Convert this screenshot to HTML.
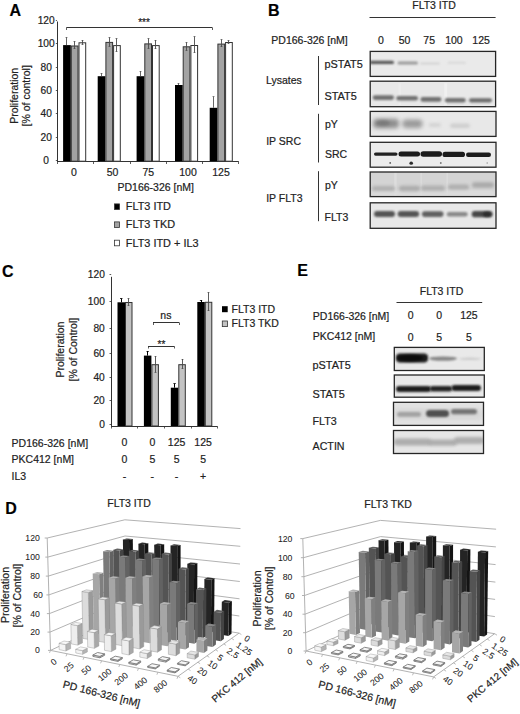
<!DOCTYPE html>
<html><head><meta charset="utf-8"><style>
html,body{margin:0;padding:0;background:#fff;}
body{width:520px;height:714px;overflow:hidden;}
svg{display:block;font-family:"Liberation Sans", sans-serif;}
text{stroke:#222;stroke-width:0.2px;}
</style></head><body>
<svg width="520" height="714" viewBox="0 0 520 714">
<defs><filter id="b0_3" x="-50%" y="-200%" width="200%" height="500%"><feGaussianBlur stdDeviation="0.3"/></filter><filter id="b0_4" x="-50%" y="-200%" width="200%" height="500%"><feGaussianBlur stdDeviation="0.4"/></filter><filter id="b0_7" x="-50%" y="-200%" width="200%" height="500%"><feGaussianBlur stdDeviation="0.7"/></filter><filter id="b1_0" x="-50%" y="-200%" width="200%" height="500%"><feGaussianBlur stdDeviation="1.0"/></filter><filter id="b1_1" x="-50%" y="-200%" width="200%" height="500%"><feGaussianBlur stdDeviation="1.1"/></filter><filter id="b1_2" x="-50%" y="-200%" width="200%" height="500%"><feGaussianBlur stdDeviation="1.2"/></filter><filter id="b1_3" x="-50%" y="-200%" width="200%" height="500%"><feGaussianBlur stdDeviation="1.3"/></filter><filter id="b1_5" x="-50%" y="-200%" width="200%" height="500%"><feGaussianBlur stdDeviation="1.5"/></filter><filter id="b1_6" x="-50%" y="-200%" width="200%" height="500%"><feGaussianBlur stdDeviation="1.6"/></filter><filter id="b2_0" x="-50%" y="-200%" width="200%" height="500%"><feGaussianBlur stdDeviation="2.0"/></filter><filter id="b2_5" x="-50%" y="-200%" width="200%" height="500%"><feGaussianBlur stdDeviation="2.5"/></filter></defs>
<rect width="520" height="714" fill="#fff"/>
<text x="9.5" y="16.1" font-size="16" text-anchor="start" font-weight="bold" fill="#000" >A</text>
<line x1="57.5" y1="21.5" x2="57.5" y2="161.4" stroke="#333" stroke-width="1"/>
<line x1="55.8" y1="160.5" x2="57.0" y2="160.5" stroke="#333" stroke-width="0.8"/>
<text x="46.2" y="164.0" font-size="10.2" text-anchor="middle" font-weight="normal" fill="#222" >0</text>
<line x1="55.8" y1="137.5" x2="57.0" y2="137.5" stroke="#333" stroke-width="0.8"/>
<text x="46.2" y="140.7" font-size="10.2" text-anchor="middle" font-weight="normal" fill="#222" >20</text>
<line x1="55.8" y1="113.5" x2="57.0" y2="113.5" stroke="#333" stroke-width="0.8"/>
<text x="46.2" y="117.3" font-size="10.2" text-anchor="middle" font-weight="normal" fill="#222" >40</text>
<line x1="55.8" y1="90.5" x2="57.0" y2="90.5" stroke="#333" stroke-width="0.8"/>
<text x="46.2" y="94.0" font-size="10.2" text-anchor="middle" font-weight="normal" fill="#222" >60</text>
<line x1="55.8" y1="67.5" x2="57.0" y2="67.5" stroke="#333" stroke-width="0.8"/>
<text x="46.2" y="70.6" font-size="10.2" text-anchor="middle" font-weight="normal" fill="#222" >80</text>
<line x1="55.8" y1="43.5" x2="57.0" y2="43.5" stroke="#333" stroke-width="0.8"/>
<text x="46.2" y="47.3" font-size="10.2" text-anchor="middle" font-weight="normal" fill="#222" >100</text>
<line x1="55.8" y1="20.5" x2="57.0" y2="20.5" stroke="#333" stroke-width="0.8"/>
<text x="46.2" y="24.0" font-size="10.2" text-anchor="middle" font-weight="normal" fill="#222" >120</text>
<line x1="57.0" y1="161.5" x2="238.5" y2="161.5" stroke="#333" stroke-width="1"/>
<line x1="57.5" y1="161.2" x2="57.5" y2="164.0" stroke="#333" stroke-width="0.8"/>
<line x1="93.5" y1="161.2" x2="93.5" y2="164.0" stroke="#333" stroke-width="0.8"/>
<line x1="130.5" y1="161.2" x2="130.5" y2="164.0" stroke="#333" stroke-width="0.8"/>
<line x1="166.5" y1="161.2" x2="166.5" y2="164.0" stroke="#333" stroke-width="0.8"/>
<line x1="202.5" y1="161.2" x2="202.5" y2="164.0" stroke="#333" stroke-width="0.8"/>
<line x1="238.5" y1="161.2" x2="238.5" y2="164.0" stroke="#333" stroke-width="0.8"/>
<text transform="translate(14.3,95.8) rotate(-90)" x="0" y="3.6" font-size="10.5" text-anchor="middle" font-weight="normal" fill="#222" >Proliferation</text>
<text transform="translate(26.5,95.8) rotate(-90)" x="0" y="3.6" font-size="10.5" text-anchor="middle" font-weight="normal" fill="#222" >[% of control]</text>
<rect x="63.1" y="45.1" width="7.7" height="116.1" fill="#000"/>
<line x1="66.5" y1="37.3" x2="66.5" y2="45.1" stroke="#555" stroke-width="0.9"/>
<line x1="65.6" y1="37.5" x2="67.4" y2="37.5" stroke="#555" stroke-width="0.8"/>
<rect x="71.3" y="46.0" width="6.7" height="115.2" fill="#a3a3a3" stroke="#333" stroke-width="1"/>
<line x1="74.5" y1="41.5" x2="74.5" y2="48.7" stroke="#4a4a4a" stroke-width="0.9"/>
<line x1="73.6" y1="41.5" x2="75.4" y2="41.5" stroke="#4a4a4a" stroke-width="0.8"/>
<line x1="73.6" y1="48.5" x2="75.4" y2="48.5" stroke="#4a4a4a" stroke-width="0.8"/>
<rect x="79.0" y="42.8" width="6.7" height="118.4" fill="#fff" stroke="#333" stroke-width="1"/>
<line x1="82.5" y1="40.2" x2="82.5" y2="44.5" stroke="#4a4a4a" stroke-width="0.9"/>
<line x1="81.6" y1="40.5" x2="83.4" y2="40.5" stroke="#4a4a4a" stroke-width="0.8"/>
<line x1="81.6" y1="44.5" x2="83.4" y2="44.5" stroke="#4a4a4a" stroke-width="0.8"/>
<rect x="97.7" y="76.2" width="7.7" height="85.0" fill="#000"/>
<line x1="101.5" y1="73.2" x2="101.5" y2="76.2" stroke="#555" stroke-width="0.9"/>
<line x1="100.6" y1="73.5" x2="102.4" y2="73.5" stroke="#555" stroke-width="0.8"/>
<rect x="105.9" y="42.4" width="6.7" height="118.8" fill="#a3a3a3" stroke="#333" stroke-width="1"/>
<line x1="109.5" y1="37.7" x2="109.5" y2="46.2" stroke="#4a4a4a" stroke-width="0.9"/>
<line x1="108.6" y1="37.5" x2="110.4" y2="37.5" stroke="#4a4a4a" stroke-width="0.8"/>
<line x1="108.6" y1="46.5" x2="110.4" y2="46.5" stroke="#4a4a4a" stroke-width="0.8"/>
<rect x="113.6" y="45.6" width="6.7" height="115.6" fill="#fff" stroke="#333" stroke-width="1"/>
<line x1="116.5" y1="38.8" x2="116.5" y2="51.4" stroke="#4a4a4a" stroke-width="0.9"/>
<line x1="115.6" y1="38.5" x2="117.4" y2="38.5" stroke="#4a4a4a" stroke-width="0.8"/>
<line x1="115.6" y1="51.5" x2="117.4" y2="51.5" stroke="#4a4a4a" stroke-width="0.8"/>
<rect x="136.6" y="76.2" width="7.7" height="85.0" fill="#000"/>
<line x1="140.5" y1="71.1" x2="140.5" y2="76.2" stroke="#555" stroke-width="0.9"/>
<line x1="139.6" y1="71.5" x2="141.4" y2="71.5" stroke="#555" stroke-width="0.8"/>
<rect x="144.8" y="43.9" width="6.7" height="117.3" fill="#a3a3a3" stroke="#333" stroke-width="1"/>
<line x1="148.5" y1="38.8" x2="148.5" y2="48.3" stroke="#4a4a4a" stroke-width="0.9"/>
<line x1="147.6" y1="38.5" x2="149.4" y2="38.5" stroke="#4a4a4a" stroke-width="0.8"/>
<line x1="147.6" y1="48.5" x2="149.4" y2="48.5" stroke="#4a4a4a" stroke-width="0.8"/>
<rect x="152.5" y="45.6" width="6.7" height="115.6" fill="#fff" stroke="#333" stroke-width="1"/>
<line x1="155.5" y1="40.2" x2="155.5" y2="48.7" stroke="#4a4a4a" stroke-width="0.9"/>
<line x1="154.6" y1="40.5" x2="156.4" y2="40.5" stroke="#4a4a4a" stroke-width="0.8"/>
<line x1="154.6" y1="48.5" x2="156.4" y2="48.5" stroke="#4a4a4a" stroke-width="0.8"/>
<rect x="175.0" y="85.0" width="7.7" height="76.2" fill="#000"/>
<line x1="178.5" y1="83.4" x2="178.5" y2="85.0" stroke="#555" stroke-width="0.9"/>
<line x1="177.6" y1="83.5" x2="179.4" y2="83.5" stroke="#555" stroke-width="0.8"/>
<rect x="183.2" y="46.8" width="6.7" height="114.4" fill="#a3a3a3" stroke="#333" stroke-width="1"/>
<line x1="186.5" y1="42.5" x2="186.5" y2="50.3" stroke="#4a4a4a" stroke-width="0.9"/>
<line x1="185.6" y1="42.5" x2="187.4" y2="42.5" stroke="#4a4a4a" stroke-width="0.8"/>
<line x1="185.6" y1="50.5" x2="187.4" y2="50.5" stroke="#4a4a4a" stroke-width="0.8"/>
<rect x="190.9" y="45.5" width="6.7" height="115.7" fill="#fff" stroke="#333" stroke-width="1"/>
<line x1="194.5" y1="36.9" x2="194.5" y2="52.5" stroke="#4a4a4a" stroke-width="0.9"/>
<line x1="193.6" y1="36.5" x2="195.4" y2="36.5" stroke="#4a4a4a" stroke-width="0.8"/>
<line x1="193.6" y1="52.5" x2="195.4" y2="52.5" stroke="#4a4a4a" stroke-width="0.8"/>
<rect x="209.7" y="107.8" width="7.7" height="53.4" fill="#000"/>
<line x1="213.5" y1="96.9" x2="213.5" y2="107.8" stroke="#555" stroke-width="0.9"/>
<line x1="212.6" y1="96.5" x2="214.4" y2="96.5" stroke="#555" stroke-width="0.8"/>
<rect x="217.9" y="44.1" width="6.7" height="117.1" fill="#a3a3a3" stroke="#333" stroke-width="1"/>
<line x1="221.5" y1="39.8" x2="221.5" y2="46.9" stroke="#4a4a4a" stroke-width="0.9"/>
<line x1="220.6" y1="39.5" x2="222.4" y2="39.5" stroke="#4a4a4a" stroke-width="0.8"/>
<line x1="220.6" y1="46.5" x2="222.4" y2="46.5" stroke="#4a4a4a" stroke-width="0.8"/>
<rect x="225.6" y="42.5" width="6.7" height="118.7" fill="#fff" stroke="#333" stroke-width="1"/>
<line x1="228.5" y1="40.7" x2="228.5" y2="43.6" stroke="#4a4a4a" stroke-width="0.9"/>
<line x1="227.6" y1="40.5" x2="229.4" y2="40.5" stroke="#4a4a4a" stroke-width="0.8"/>
<line x1="227.6" y1="43.5" x2="229.4" y2="43.5" stroke="#4a4a4a" stroke-width="0.8"/>
<line x1="66.6" y1="27.5" x2="212.0" y2="27.5" stroke="#333" stroke-width="1"/>
<line x1="66.5" y1="27.3" x2="66.5" y2="30.0" stroke="#333" stroke-width="0.8"/>
<line x1="212.5" y1="27.3" x2="212.5" y2="30.0" stroke="#333" stroke-width="0.8"/>
<text x="144.0" y="25.8" font-size="10" text-anchor="middle" font-weight="normal" fill="#222" >***</text>
<text x="73.8" y="175.9" font-size="10.5" text-anchor="middle" font-weight="normal" fill="#222" >0</text>
<text x="112.6" y="175.9" font-size="10.5" text-anchor="middle" font-weight="normal" fill="#222" >50</text>
<text x="148.3" y="175.9" font-size="10.5" text-anchor="middle" font-weight="normal" fill="#222" >75</text>
<text x="188.0" y="175.9" font-size="10.5" text-anchor="middle" font-weight="normal" fill="#222" >100</text>
<text x="221.0" y="175.9" font-size="10.5" text-anchor="middle" font-weight="normal" fill="#222" >125</text>
<text x="155.7" y="191.3" font-size="10.5" text-anchor="middle" font-weight="normal" fill="#222" >PD166-326 [nM]</text>
<rect x="114.5" y="203.9" width="5.0" height="5.6" fill="#000" stroke="#333" stroke-width="0.8"/>
<text x="125.8" y="210.4" font-size="10.9" text-anchor="start" font-weight="normal" fill="#222" >FLT3 ITD</text>
<rect x="114.5" y="221.9" width="5.0" height="5.6" fill="#a3a3a3" stroke="#333" stroke-width="0.8"/>
<text x="125.8" y="228.4" font-size="10.9" text-anchor="start" font-weight="normal" fill="#222" >FLT3 TKD</text>
<rect x="114.5" y="240.2" width="5.0" height="5.6" fill="#fff" stroke="#333" stroke-width="0.8"/>
<text x="125.8" y="246.7" font-size="10.9" text-anchor="start" font-weight="normal" fill="#222" >FLT3 ITD + IL3</text>
<text x="268.0" y="15.8" font-size="16" text-anchor="start" font-weight="bold" fill="#000" >B</text>
<text x="434.0" y="9.4" font-size="10.5" text-anchor="middle" font-weight="normal" fill="#222" >FLT3 ITD</text>
<line x1="369.5" y1="17.5" x2="495.6" y2="17.5" stroke="#333" stroke-width="1"/>
<text x="271.3" y="43.6" font-size="10.5" text-anchor="start" font-weight="normal" fill="#222" >PD166-326 [nM]</text>
<text x="380.8" y="43.6" font-size="10.5" text-anchor="middle" font-weight="normal" fill="#222" >0</text>
<text x="404.5" y="43.6" font-size="10.5" text-anchor="middle" font-weight="normal" fill="#222" >50</text>
<text x="429.2" y="43.6" font-size="10.5" text-anchor="middle" font-weight="normal" fill="#222" >75</text>
<text x="453.9" y="43.6" font-size="10.5" text-anchor="middle" font-weight="normal" fill="#222" >100</text>
<text x="481.1" y="43.6" font-size="10.5" text-anchor="middle" font-weight="normal" fill="#222" >125</text>
<line x1="318.5" y1="56.0" x2="318.5" y2="105.0" stroke="#333" stroke-width="1"/>
<line x1="318.5" y1="113.8" x2="318.5" y2="162.5" stroke="#333" stroke-width="1"/>
<line x1="318.5" y1="171.2" x2="318.5" y2="221.2" stroke="#333" stroke-width="1"/>
<text x="266.0" y="84.1" font-size="10.5" text-anchor="start" font-weight="normal" fill="#222" >Lysates</text>
<text x="266.2" y="145.4" font-size="10.5" text-anchor="start" font-weight="normal" fill="#222" >IP SRC</text>
<text x="266.2" y="201.9" font-size="10.5" text-anchor="start" font-weight="normal" fill="#222" >IP FLT3</text>
<text x="324.5" y="68.3" font-size="10.9" text-anchor="start" font-weight="normal" fill="#222" >pSTAT5</text>
<text x="324.5" y="99.6" font-size="10.9" text-anchor="start" font-weight="normal" fill="#222" >STAT5</text>
<text x="325.0" y="127.9" font-size="10.5" text-anchor="start" font-weight="normal" fill="#222" >pY</text>
<text x="325.0" y="158.0" font-size="10.5" text-anchor="start" font-weight="normal" fill="#222" >SRC</text>
<text x="325.0" y="188.6" font-size="10.5" text-anchor="start" font-weight="normal" fill="#222" >pY</text>
<text x="324.5" y="221.2" font-size="10.5" text-anchor="start" font-weight="normal" fill="#222" >FLT3</text>
<rect x="370.2" y="51.4" width="125.4" height="25.0" fill="#eaeaea"/>
<svg x="370.2" y="51.4" width="125.4" height="25.0" overflow="hidden">

<rect x="-0.7" y="9.3" width="24.5" height="3.4" rx="1.7" fill="#505050" opacity="0.95" filter="url(#b1_0)"/>
<rect x="27.3" y="10.1" width="20.5" height="3.0" rx="1.5" fill="#8c8c8c" opacity="0.85" filter="url(#b1_0)"/>
<rect x="49.8" y="11.0" width="20.0" height="2.0" rx="1.0" fill="#c8c8c8" opacity="0.7" filter="url(#b1_1)"/>
<rect x="77.3" y="10.4" width="18.5" height="2.0" rx="1.0" fill="#d0d0d0" opacity="0.7" filter="url(#b1_1)"/>
</svg>
<rect x="370.2" y="51.4" width="125.4" height="25.0" fill="none" stroke="#262626" stroke-width="1.3"/>
<rect x="370.2" y="81.2" width="125.4" height="25.5" fill="#e8e8e8"/>
<svg x="370.2" y="81.2" width="125.4" height="25.5" overflow="hidden">
<rect x="74" y="2" width="3" height="22" fill="#f3f3f3" opacity="0.7"/><rect x="28" y="2" width="3" height="22" fill="#f0f0f0" opacity="0.5"/>
<rect x="2.5" y="14.1" width="21.3" height="4.6" rx="2.3" fill="#666" opacity="0.92" filter="url(#b1_2)"/>
<rect x="26.1" y="14.7" width="21.7" height="4.6" rx="2.3" fill="#666" opacity="0.92" filter="url(#b1_2)"/>
<rect x="50.3" y="15.9" width="20.9" height="4.6" rx="2.3" fill="#666" opacity="0.92" filter="url(#b1_2)"/>
<rect x="74.6" y="16.7" width="20.9" height="4.6" rx="2.3" fill="#666" opacity="0.92" filter="url(#b1_2)"/>
<rect x="98.8" y="17.0" width="23.0" height="4.2" rx="2.1" fill="#626262" opacity="0.92" filter="url(#b1_2)"/>
</svg>
<rect x="370.2" y="81.2" width="125.4" height="25.5" fill="none" stroke="#262626" stroke-width="1.3"/>
<rect x="370.2" y="111.4" width="125.8" height="25.0" fill="#e8e8e8"/>
<svg x="370.2" y="111.4" width="125.8" height="25.0" overflow="hidden">

<rect x="2.8" y="7.3" width="26.0" height="9.5" rx="4.0" fill="#858585" opacity="0.9" filter="url(#b2_0)"/>
<ellipse cx="12.8" cy="11.6" rx="7.0" ry="3.0" fill="#6a6a6a" opacity="0.6" filter="url(#b1_5)"/>
<rect x="32.1" y="8.1" width="20.2" height="8.5" rx="4.0" fill="#939393" opacity="0.9" filter="url(#b2_0)"/>
<rect x="58.4" y="11.6" width="12.4" height="4.0" rx="2.0" fill="#cacaca" opacity="0.7" filter="url(#b1_6)"/>
<rect x="79.8" y="12.1" width="20.0" height="4.5" rx="2.2" fill="#c8c8c8" opacity="0.8" filter="url(#b1_6)"/>
</svg>
<rect x="370.2" y="111.4" width="125.8" height="25.0" fill="none" stroke="#262626" stroke-width="1.3"/>
<rect x="370.2" y="142.3" width="125.8" height="24.9" fill="#ececec"/>
<svg x="370.2" y="142.3" width="125.8" height="24.9" overflow="hidden">

<rect x="3.8" y="10.2" width="23.5" height="3.2" rx="1.6" fill="#222" opacity="1.0" filter="url(#b0_7)"/>
<rect x="28.3" y="9.1" width="21.5" height="5.0" rx="2.5" fill="#1a1a1a" opacity="1.0" filter="url(#b0_7)"/>
<rect x="50.3" y="8.9" width="21.5" height="5.6" rx="2.8" fill="#1a1a1a" opacity="1.0" filter="url(#b0_7)"/>
<rect x="72.3" y="9.5" width="22.5" height="5.2" rx="2.6" fill="#1a1a1a" opacity="1.0" filter="url(#b0_7)"/>
<rect x="95.8" y="10.3" width="25.0" height="4.4" rx="2.2" fill="#1e1e1e" opacity="1.0" filter="url(#b0_7)"/>
<ellipse cx="20.0" cy="20.6" rx="0.9" ry="0.9" fill="#333" opacity="0.8" filter="url(#b0_3)"/>
<ellipse cx="41.0" cy="20.9" rx="1.8" ry="1.6" fill="#222" opacity="0.95" filter="url(#b0_4)"/>
<ellipse cx="70.6" cy="20.7" rx="0.9" ry="0.9" fill="#444" opacity="0.7" filter="url(#b0_3)"/>
<ellipse cx="117.0" cy="20.7" rx="0.8" ry="0.8" fill="#666" opacity="0.6" filter="url(#b0_3)"/>
</svg>
<rect x="370.2" y="142.3" width="125.8" height="24.9" fill="none" stroke="#262626" stroke-width="1.3"/>
<rect x="370.2" y="172.0" width="125.8" height="24.6" fill="#d4d4d4"/>
<svg x="370.2" y="172.0" width="125.8" height="24.6" overflow="hidden">
<rect x="24" y="0" width="2.5" height="25" fill="#e2e2e2" opacity="0.6"/><rect x="50" y="0" width="2" height="25" fill="#e2e2e2" opacity="0.5"/><rect x="76" y="0" width="2" height="25" fill="#e2e2e2" opacity="0.5"/>
<rect x="-0.2" y="18.5" width="126.0" height="6.0" rx="3.0" fill="#dcdcdc" opacity="0.9" filter="url(#b1_5)"/>
<rect x="1.8" y="13.9" width="23.0" height="5.0" rx="2.5" fill="#adadad" opacity="0.9" filter="url(#b1_5)"/>
<rect x="28.8" y="13.8" width="21.0" height="5.5" rx="2.8" fill="#a8a8a8" opacity="0.9" filter="url(#b1_5)"/>
<rect x="50.8" y="13.6" width="24.0" height="5.2" rx="2.6" fill="#acacac" opacity="0.9" filter="url(#b1_5)"/>
<rect x="77.8" y="12.5" width="21.0" height="5.0" rx="2.5" fill="#aaaaaa" opacity="0.9" filter="url(#b1_5)"/>
<rect x="101.8" y="10.2" width="22.0" height="5.5" rx="2.8" fill="#a5a5a5" opacity="0.9" filter="url(#b1_5)"/>
</svg>
<rect x="370.2" y="172.0" width="125.8" height="24.6" fill="none" stroke="#262626" stroke-width="1.3"/>
<rect x="370.2" y="202.8" width="125.8" height="25.5" fill="#e8e8e8"/>
<svg x="370.2" y="202.8" width="125.8" height="25.5" overflow="hidden">

<rect x="3.8" y="8.2" width="21.0" height="6.0" rx="3.0" fill="#4e4e4e" opacity="0.95" filter="url(#b1_1)"/>
<rect x="27.4" y="8.2" width="21.6" height="6.0" rx="3.0" fill="#4e4e4e" opacity="0.95" filter="url(#b1_1)"/>
<rect x="51.7" y="8.5" width="21.6" height="5.6" rx="2.8" fill="#5a5a5a" opacity="0.95" filter="url(#b1_1)"/>
<rect x="76.6" y="9.2" width="20.9" height="4.4" rx="2.2" fill="#7e7e7e" opacity="0.9" filter="url(#b1_1)"/>
<rect x="101.5" y="8.3" width="20.9" height="6.2" rx="3.1" fill="#404040" opacity="0.95" filter="url(#b1_1)"/>
<ellipse cx="116.8" cy="11.5" rx="4.0" ry="2.8" fill="#222" opacity="0.7" filter="url(#b1_0)"/>
</svg>
<rect x="370.2" y="202.8" width="125.8" height="25.5" fill="none" stroke="#262626" stroke-width="1.3"/>
<text x="2.0" y="277.4" font-size="16" text-anchor="start" font-weight="bold" fill="#000" >C</text>
<line x1="111.5" y1="276.8" x2="111.5" y2="426.5" stroke="#333" stroke-width="1"/>
<line x1="109.5" y1="424.5" x2="111.2" y2="424.5" stroke="#333" stroke-width="0.8"/>
<text x="104.8" y="427.5" font-size="10.2" text-anchor="end" font-weight="normal" fill="#222" >0</text>
<line x1="109.5" y1="400.5" x2="111.2" y2="400.5" stroke="#333" stroke-width="0.8"/>
<text x="104.8" y="403.7" font-size="10.2" text-anchor="end" font-weight="normal" fill="#222" >20</text>
<line x1="109.5" y1="377.5" x2="111.2" y2="377.5" stroke="#333" stroke-width="0.8"/>
<text x="104.8" y="380.8" font-size="10.2" text-anchor="end" font-weight="normal" fill="#222" >40</text>
<line x1="109.5" y1="353.5" x2="111.2" y2="353.5" stroke="#333" stroke-width="0.8"/>
<text x="104.8" y="357.0" font-size="10.2" text-anchor="end" font-weight="normal" fill="#222" >60</text>
<line x1="109.5" y1="328.5" x2="111.2" y2="328.5" stroke="#333" stroke-width="0.8"/>
<text x="104.8" y="332.4" font-size="10.2" text-anchor="end" font-weight="normal" fill="#222" >80</text>
<line x1="109.5" y1="301.5" x2="111.2" y2="301.5" stroke="#333" stroke-width="0.8"/>
<text x="104.8" y="305.3" font-size="10.2" text-anchor="end" font-weight="normal" fill="#222" >100</text>
<line x1="109.5" y1="274.5" x2="111.2" y2="274.5" stroke="#333" stroke-width="0.8"/>
<text x="104.8" y="278.3" font-size="10.2" text-anchor="end" font-weight="normal" fill="#222" >120</text>
<line x1="111.2" y1="426.5" x2="217.0" y2="426.5" stroke="#333" stroke-width="1"/>
<line x1="111.5" y1="426.0" x2="111.5" y2="428.5" stroke="#333" stroke-width="0.8"/>
<line x1="137.5" y1="426.0" x2="137.5" y2="428.5" stroke="#333" stroke-width="0.8"/>
<line x1="164.5" y1="426.0" x2="164.5" y2="428.5" stroke="#333" stroke-width="0.8"/>
<line x1="191.5" y1="426.0" x2="191.5" y2="428.5" stroke="#333" stroke-width="0.8"/>
<line x1="217.5" y1="426.0" x2="217.5" y2="428.5" stroke="#333" stroke-width="0.8"/>
<text transform="translate(60.6,349.6) rotate(-90)" x="0" y="3.6" font-size="10.5" text-anchor="middle" font-weight="normal" fill="#222" >Proliferation</text>
<text transform="translate(73.0,349.6) rotate(-90)" x="0" y="3.6" font-size="10.5" text-anchor="middle" font-weight="normal" fill="#222" >[% of Control]</text>
<rect x="117.5" y="302.3" width="7.5" height="123.7" fill="#000"/>
<line x1="121.5" y1="298.5" x2="121.5" y2="302.3" stroke="#000" stroke-width="1"/>
<line x1="120.0" y1="298.5" x2="122.5" y2="298.5" stroke="#000" stroke-width="0.8"/>
<rect x="125.5" y="302.5" width="6.5" height="123.5" fill="#c3c3c3" stroke="#333" stroke-width="1"/>
<line x1="128.5" y1="298.5" x2="128.5" y2="305.5" stroke="#4a4a4a" stroke-width="0.9"/>
<line x1="127.6" y1="298.5" x2="129.4" y2="298.5" stroke="#4a4a4a" stroke-width="0.8"/>
<line x1="127.6" y1="305.5" x2="129.4" y2="305.5" stroke="#4a4a4a" stroke-width="0.8"/>
<rect x="143.9" y="355.6" width="7.5" height="70.4" fill="#000"/>
<line x1="147.5" y1="351.0" x2="147.5" y2="355.6" stroke="#000" stroke-width="1"/>
<line x1="146.5" y1="351.5" x2="148.8" y2="351.5" stroke="#000" stroke-width="0.8"/>
<rect x="151.9" y="364.7" width="6.5" height="61.3" fill="#c3c3c3" stroke="#333" stroke-width="1"/>
<line x1="155.5" y1="356.3" x2="155.5" y2="372.0" stroke="#4a4a4a" stroke-width="0.9"/>
<line x1="154.6" y1="356.5" x2="156.4" y2="356.5" stroke="#4a4a4a" stroke-width="0.8"/>
<line x1="154.6" y1="372.5" x2="156.4" y2="372.5" stroke="#4a4a4a" stroke-width="0.8"/>
<rect x="170.8" y="387.7" width="7.5" height="38.3" fill="#000"/>
<line x1="174.5" y1="383.7" x2="174.5" y2="387.7" stroke="#000" stroke-width="1"/>
<line x1="173.4" y1="383.5" x2="175.8" y2="383.5" stroke="#000" stroke-width="0.8"/>
<rect x="178.8" y="364.7" width="6.5" height="61.3" fill="#c3c3c3" stroke="#333" stroke-width="1"/>
<line x1="182.5" y1="359.0" x2="182.5" y2="368.7" stroke="#4a4a4a" stroke-width="0.9"/>
<line x1="181.6" y1="359.5" x2="183.4" y2="359.5" stroke="#4a4a4a" stroke-width="0.8"/>
<line x1="181.6" y1="368.5" x2="183.4" y2="368.5" stroke="#4a4a4a" stroke-width="0.8"/>
<rect x="197.3" y="302.0" width="7.5" height="124.0" fill="#000"/>
<line x1="201.5" y1="300.0" x2="201.5" y2="302.0" stroke="#000" stroke-width="1"/>
<line x1="199.9" y1="300.5" x2="202.2" y2="300.5" stroke="#000" stroke-width="0.8"/>
<rect x="205.3" y="302.3" width="6.5" height="123.7" fill="#c3c3c3" stroke="#333" stroke-width="1"/>
<line x1="208.5" y1="292.4" x2="208.5" y2="310.8" stroke="#4a4a4a" stroke-width="0.9"/>
<line x1="207.6" y1="292.5" x2="209.4" y2="292.5" stroke="#4a4a4a" stroke-width="0.8"/>
<line x1="207.6" y1="310.5" x2="209.4" y2="310.5" stroke="#4a4a4a" stroke-width="0.8"/>
<line x1="153.0" y1="322.5" x2="179.3" y2="322.5" stroke="#333" stroke-width="1"/>
<line x1="153.5" y1="322.7" x2="153.5" y2="325.0" stroke="#333" stroke-width="0.8"/>
<line x1="179.5" y1="322.7" x2="179.5" y2="325.0" stroke="#333" stroke-width="0.8"/>
<text x="165.9" y="318.9" font-size="10.5" text-anchor="middle" font-weight="normal" fill="#222" >ns</text>
<line x1="148.0" y1="346.5" x2="174.2" y2="346.5" stroke="#333" stroke-width="1"/>
<line x1="148.5" y1="346.2" x2="148.5" y2="348.5" stroke="#333" stroke-width="0.8"/>
<line x1="174.5" y1="346.2" x2="174.5" y2="348.5" stroke="#333" stroke-width="0.8"/>
<text x="161.4" y="347.9" font-size="10" text-anchor="middle" font-weight="normal" fill="#222" >**</text>
<rect x="222.0" y="306.2" width="5.7" height="6.0" fill="#000"/>
<text x="231.5" y="312.6" font-size="10.5" text-anchor="start" font-weight="normal" fill="#222" >FLT3 ITD</text>
<rect x="222.3" y="321.0" width="5.2" height="5.6" fill="#c3c3c3" stroke="#333" stroke-width="0.8"/>
<text x="231.5" y="326.8" font-size="10.5" text-anchor="start" font-weight="normal" fill="#222" >FLT3 TKD</text>
<text x="11.6" y="446.6" font-size="10.5" text-anchor="start" font-weight="normal" fill="#222" >PD166-326 [nM]</text>
<text x="11.6" y="462.6" font-size="10.5" text-anchor="start" font-weight="normal" fill="#222" >PKC412 [nM]</text>
<text x="11.6" y="480.2" font-size="10.5" text-anchor="start" font-weight="normal" fill="#222" >IL3</text>
<text x="124.4" y="445.9" font-size="10.5" text-anchor="middle" font-weight="normal" fill="#222" >0</text>
<text x="124.4" y="462.9" font-size="10.5" text-anchor="middle" font-weight="normal" fill="#222" >0</text>
<text x="124.4" y="480.2" font-size="10.5" text-anchor="middle" font-weight="normal" fill="#222" >-</text>
<text x="152.3" y="445.9" font-size="10.5" text-anchor="middle" font-weight="normal" fill="#222" >0</text>
<text x="152.3" y="462.9" font-size="10.5" text-anchor="middle" font-weight="normal" fill="#222" >5</text>
<text x="152.3" y="480.2" font-size="10.5" text-anchor="middle" font-weight="normal" fill="#222" >-</text>
<text x="176.6" y="445.9" font-size="10.5" text-anchor="middle" font-weight="normal" fill="#222" >125</text>
<text x="176.6" y="462.9" font-size="10.5" text-anchor="middle" font-weight="normal" fill="#222" >5</text>
<text x="176.6" y="480.2" font-size="10.5" text-anchor="middle" font-weight="normal" fill="#222" >-</text>
<text x="203.1" y="445.9" font-size="10.5" text-anchor="middle" font-weight="normal" fill="#222" >125</text>
<text x="203.1" y="462.9" font-size="10.5" text-anchor="middle" font-weight="normal" fill="#222" >5</text>
<text x="203.1" y="480.2" font-size="10.5" text-anchor="middle" font-weight="normal" fill="#222" >+</text>
<text x="297.2" y="276.4" font-size="16" text-anchor="start" font-weight="bold" fill="#000" >E</text>
<text x="441.5" y="294.8" font-size="10.5" text-anchor="middle" font-weight="normal" fill="#222" >FLT3 ITD</text>
<line x1="396.5" y1="302.5" x2="482.2" y2="302.5" stroke="#333" stroke-width="1"/>
<text x="312.8" y="319.5" font-size="10.5" text-anchor="start" font-weight="normal" fill="#222" >PD166-326 [nM]</text>
<text x="312.8" y="340.2" font-size="10.5" text-anchor="start" font-weight="normal" fill="#222" >PKC412 [nM]</text>
<text x="410.7" y="319.1" font-size="10.5" text-anchor="middle" font-weight="normal" fill="#222" >0</text>
<text x="410.7" y="340.9" font-size="10.5" text-anchor="middle" font-weight="normal" fill="#222" >0</text>
<text x="439.2" y="319.1" font-size="10.5" text-anchor="middle" font-weight="normal" fill="#222" >0</text>
<text x="439.2" y="340.9" font-size="10.5" text-anchor="middle" font-weight="normal" fill="#222" >5</text>
<text x="468.9" y="319.1" font-size="10.5" text-anchor="middle" font-weight="normal" fill="#222" >125</text>
<text x="468.9" y="340.9" font-size="10.5" text-anchor="middle" font-weight="normal" fill="#222" >5</text>
<text x="312.5" y="369.1" font-size="10.9" text-anchor="start" font-weight="normal" fill="#222" >pSTAT5</text>
<text x="312.5" y="397.8" font-size="10.9" text-anchor="start" font-weight="normal" fill="#222" >STAT5</text>
<text x="312.5" y="425.3" font-size="10.7" text-anchor="start" font-weight="normal" fill="#222" >FLT3</text>
<text x="312.5" y="450.1" font-size="10.7" text-anchor="start" font-weight="normal" fill="#222" >ACTIN</text>
<rect x="394.3" y="347.4" width="90.0" height="23.1" fill="#e9e9e9"/>
<svg x="394.3" y="347.4" width="90.0" height="23.1" overflow="hidden">

<rect x="1.7" y="6.1" width="32.0" height="9.0" rx="4.0" fill="#1a1a1a" opacity="1.0" filter="url(#b1_3)"/>
<ellipse cx="15.7" cy="10.6" rx="13.0" ry="3.5" fill="#000" opacity="0.6" filter="url(#b1_2)"/>
<ellipse cx="48.7" cy="11.2" rx="14.0" ry="2.2" fill="#7a7a7a" opacity="0.9" filter="url(#b1_0)"/>
<ellipse cx="75.7" cy="11.4" rx="11.0" ry="1.2" fill="#c0c0c0" opacity="0.7" filter="url(#b1_0)"/>
</svg>
<rect x="394.3" y="347.4" width="90.0" height="23.1" fill="none" stroke="#262626" stroke-width="1.3"/>
<rect x="394.3" y="375.0" width="90.0" height="22.2" fill="#e9e9e9"/>
<svg x="394.3" y="375.0" width="90.0" height="22.2" overflow="hidden">

<rect x="1.7" y="11.0" width="35.0" height="6.0" rx="3.0" fill="#1c1c1c" opacity="1.0" filter="url(#b1_1)"/>
<rect x="35.7" y="10.9" width="22.0" height="5.6" rx="2.8" fill="#222" opacity="1.0" filter="url(#b1_1)"/>
<rect x="57.2" y="10.0" width="29.5" height="6.0" rx="3.0" fill="#1c1c1c" opacity="1.0" filter="url(#b1_1)"/>
</svg>
<rect x="394.3" y="375.0" width="90.0" height="22.2" fill="none" stroke="#262626" stroke-width="1.3"/>
<rect x="393.5" y="402.3" width="90.0" height="23.1" fill="#e4e4e4"/>
<svg x="393.5" y="402.3" width="90.0" height="23.1" overflow="hidden">

<rect x="0.0" y="5.7" width="90.0" height="12.0" rx="4.0" fill="#d6d6d6" opacity="0.9" filter="url(#b2_5)"/>
<rect x="3.5" y="9.8" width="24.0" height="4.6" rx="2.3" fill="#9c9c9c" opacity="0.9" filter="url(#b1_3)"/>
<rect x="32.5" y="7.8" width="23.0" height="7.0" rx="3.5" fill="#4a4a4a" opacity="0.95" filter="url(#b1_3)"/>
<rect x="57.5" y="6.6" width="26.0" height="5.4" rx="2.7" fill="#6a6a6a" opacity="0.9" filter="url(#b1_3)"/>
</svg>
<rect x="393.5" y="402.3" width="90.0" height="23.1" fill="none" stroke="#262626" stroke-width="1.3"/>
<rect x="393.5" y="430.5" width="90.0" height="23.0" fill="#e6e6e6"/>
<svg x="393.5" y="430.5" width="90.0" height="23.0" overflow="hidden">

<rect x="0.5" y="8.0" width="37.0" height="7.0" rx="3.5" fill="#a6a6a6" opacity="0.9" filter="url(#b1_6)"/>
<rect x="34.5" y="8.9" width="29.0" height="6.4" rx="3.2" fill="#a8a8a8" opacity="0.9" filter="url(#b1_6)"/>
<rect x="60.5" y="6.6" width="30.0" height="7.0" rx="3.5" fill="#a8a8a8" opacity="0.9" filter="url(#b1_6)"/>
</svg>
<rect x="393.5" y="430.5" width="90.0" height="23.0" fill="none" stroke="#262626" stroke-width="1.3"/>
<text x="5.2" y="513.6" font-size="16" text-anchor="start" font-weight="bold" fill="#000" >D</text>
<text x="129.0" y="507.4" font-size="10.5" text-anchor="middle" font-weight="normal" fill="#222" >FLT3 ITD</text>
<text x="388.0" y="507.8" font-size="10.5" text-anchor="middle" font-weight="normal" fill="#222" >FLT3 TKD</text>
<polyline points="50.5,650.4 125.9,615.2 239.1,633.1" fill="none" stroke="#a9a9a9" stroke-width="0.9"/>
<line x1="48.0" y1="650.4" x2="50.5" y2="650.4" stroke="#a9a9a9" stroke-width="0.9"/>
<text x="39.8" y="653.4" font-size="8.7" text-anchor="end" font-weight="normal" fill="#222"  style="stroke-width:0.05px">0</text>
<polyline points="50.0,632.1 125.7,599.6 239.3,616.0" fill="none" stroke="#a9a9a9" stroke-width="0.9"/>
<line x1="47.5" y1="632.1" x2="50.0" y2="632.1" stroke="#a9a9a9" stroke-width="0.9"/>
<text x="39.8" y="635.1" font-size="8.7" text-anchor="end" font-weight="normal" fill="#222"  style="stroke-width:0.05px">20</text>
<polyline points="49.4,613.6 125.5,583.9 239.5,598.8" fill="none" stroke="#a9a9a9" stroke-width="0.9"/>
<line x1="46.9" y1="613.6" x2="49.4" y2="613.6" stroke="#a9a9a9" stroke-width="0.9"/>
<text x="39.8" y="616.6" font-size="8.7" text-anchor="end" font-weight="normal" fill="#222"  style="stroke-width:0.05px">40</text>
<polyline points="48.9,594.9 125.3,568.0 239.8,581.5" fill="none" stroke="#a9a9a9" stroke-width="0.9"/>
<line x1="46.4" y1="594.9" x2="48.9" y2="594.9" stroke="#a9a9a9" stroke-width="0.9"/>
<text x="42.8" y="597.9" font-size="8.7" text-anchor="end" font-weight="normal" fill="#222"  style="stroke-width:0.05px">60</text>
<polyline points="48.3,576.1 125.1,552.1 240.0,564.0" fill="none" stroke="#a9a9a9" stroke-width="0.9"/>
<line x1="45.8" y1="576.1" x2="48.3" y2="576.1" stroke="#a9a9a9" stroke-width="0.9"/>
<text x="39.8" y="579.1" font-size="8.7" text-anchor="end" font-weight="normal" fill="#222"  style="stroke-width:0.05px">80</text>
<polyline points="47.8,557.1 125.0,536.0 240.3,546.3" fill="none" stroke="#a9a9a9" stroke-width="0.9"/>
<line x1="45.3" y1="557.1" x2="47.8" y2="557.1" stroke="#a9a9a9" stroke-width="0.9"/>
<text x="39.8" y="560.1" font-size="8.7" text-anchor="end" font-weight="normal" fill="#222"  style="stroke-width:0.05px">100</text>
<polyline points="47.2,538.0 124.8,519.8 240.5,528.6" fill="none" stroke="#a9a9a9" stroke-width="0.9"/>
<line x1="44.7" y1="538.0" x2="47.2" y2="538.0" stroke="#a9a9a9" stroke-width="0.9"/>
<text x="39.8" y="541.0" font-size="8.7" text-anchor="end" font-weight="normal" fill="#222"  style="stroke-width:0.05px">120</text>
<line x1="50.5" y1="650.4" x2="47.2" y2="538.0" stroke="#a9a9a9" stroke-width="0.9"/>
<polyline points="50.5,650.4 178.0,676.3 239.1,633.1" fill="none" stroke="#a9a9a9" stroke-width="0.9"/>
<line x1="50.5" y1="650.4" x2="49.5" y2="652.9" stroke="#a9a9a9" stroke-width="0.8"/>
<line x1="67.0" y1="653.8" x2="66.0" y2="656.3" stroke="#a9a9a9" stroke-width="0.8"/>
<line x1="84.1" y1="657.2" x2="83.1" y2="659.7" stroke="#a9a9a9" stroke-width="0.8"/>
<line x1="101.6" y1="660.8" x2="100.6" y2="663.3" stroke="#a9a9a9" stroke-width="0.8"/>
<line x1="119.8" y1="664.5" x2="118.8" y2="667.0" stroke="#a9a9a9" stroke-width="0.8"/>
<line x1="138.5" y1="668.3" x2="137.5" y2="670.8" stroke="#a9a9a9" stroke-width="0.8"/>
<line x1="157.9" y1="672.2" x2="156.9" y2="674.7" stroke="#a9a9a9" stroke-width="0.8"/>
<line x1="178.0" y1="676.3" x2="177.0" y2="678.8" stroke="#a9a9a9" stroke-width="0.8"/>
<line x1="178.0" y1="676.3" x2="180.3" y2="677.8" stroke="#a9a9a9" stroke-width="0.8"/>
<line x1="188.2" y1="669.1" x2="190.5" y2="670.6" stroke="#a9a9a9" stroke-width="0.8"/>
<line x1="197.8" y1="662.2" x2="200.1" y2="663.7" stroke="#a9a9a9" stroke-width="0.8"/>
<line x1="207.0" y1="655.8" x2="209.3" y2="657.3" stroke="#a9a9a9" stroke-width="0.8"/>
<line x1="215.6" y1="649.7" x2="217.9" y2="651.2" stroke="#a9a9a9" stroke-width="0.8"/>
<line x1="223.8" y1="643.9" x2="226.1" y2="645.4" stroke="#a9a9a9" stroke-width="0.8"/>
<line x1="231.6" y1="638.4" x2="233.9" y2="639.9" stroke="#a9a9a9" stroke-width="0.8"/>
<line x1="239.1" y1="633.1" x2="241.4" y2="634.6" stroke="#a9a9a9" stroke-width="0.8"/>
<polygon points="129.9,619.9 133.6,618.1 132.8,539.0 129.0,540.1" fill="#141414"/>
<polygon points="123.9,618.9 129.9,619.9 129.0,540.1 122.9,539.5" fill="#242424"/>
<polygon points="122.9,539.5 129.0,540.1 132.8,539.0 126.7,538.5" fill="#303030"/>
<polygon points="145.3,622.4 148.8,620.6 148.3,543.2 144.7,544.3" fill="#141414"/>
<polygon points="139.1,621.4 145.3,622.4 144.7,544.3 138.4,543.7" fill="#242424"/>
<polygon points="138.4,543.7 144.7,544.3 148.3,543.2 142.1,542.6" fill="#303030"/>
<polygon points="120.5,624.5 124.3,622.6 123.4,549.2 119.5,550.4" fill="#444444"/>
<polygon points="114.4,623.5 120.5,624.5 119.5,550.4 113.3,549.7" fill="#545454"/>
<polygon points="113.3,549.7 119.5,550.4 123.4,549.2 117.2,548.6" fill="#626262"/>
<polygon points="161.0,625.0 164.5,623.1 164.2,544.2 160.7,545.3" fill="#141414"/>
<polygon points="154.7,623.9 161.0,625.0 160.7,545.3 154.2,544.7" fill="#242424"/>
<polygon points="154.2,544.7 160.7,545.3 164.2,544.2 157.8,543.6" fill="#303030"/>
<polygon points="136.0,627.1 139.8,625.2 139.1,550.4 135.3,551.6" fill="#444444"/>
<polygon points="129.8,626.0 136.0,627.1 135.3,551.6 128.9,550.9" fill="#545454"/>
<polygon points="128.9,550.9 135.3,551.6 139.1,550.4 132.8,549.7" fill="#626262"/>
<polygon points="177.2,627.6 180.6,625.7 180.6,544.9 177.2,546.0" fill="#141414"/>
<polygon points="170.7,626.5 177.2,627.6 177.2,546.0 170.5,545.4" fill="#242424"/>
<polygon points="170.5,545.4 177.2,546.0 180.6,544.9 174.0,544.3" fill="#303030"/>
<polygon points="110.6,629.3 114.6,627.3 113.5,550.7 109.4,551.9" fill="#626262"/>
<polygon points="104.4,628.2 110.6,629.3 109.4,551.9 103.1,551.3" fill="#7a7a7a"/>
<polygon points="103.1,551.3 109.4,551.9 113.5,550.7 107.2,550.0" fill="#888888"/>
<polygon points="152.0,629.8 155.7,627.8 155.3,552.9 151.6,554.2" fill="#444444"/>
<polygon points="145.6,628.7 152.0,629.8 151.6,554.2 145.0,553.5" fill="#545454"/>
<polygon points="145.0,553.5 151.6,554.2 155.3,552.9 148.8,552.3" fill="#626262"/>
<polygon points="193.8,630.3 197.1,628.3 197.4,563.1 194.1,564.5" fill="#141414"/>
<polygon points="187.1,629.2 193.8,630.3 194.1,564.5 187.3,563.7" fill="#242424"/>
<polygon points="187.3,563.7 194.1,564.5 197.4,563.1 190.6,562.4" fill="#303030"/>
<polygon points="126.4,632.0 130.3,630.0 129.5,556.1 125.5,557.4" fill="#626262"/>
<polygon points="120.0,630.9 126.4,632.0 125.5,557.4 119.0,556.7" fill="#7a7a7a"/>
<polygon points="119.0,556.7 125.5,557.4 129.5,556.1 123.1,555.4" fill="#888888"/>
<polygon points="210.9,633.1 214.1,631.0 214.5,578.2 211.3,579.7" fill="#141414"/>
<polygon points="204.0,631.9 210.9,633.1 211.3,579.7 204.4,578.9" fill="#242424"/>
<polygon points="204.4,578.9 211.3,579.7 214.5,578.2 207.6,577.4" fill="#303030"/>
<polygon points="168.5,632.5 172.0,630.5 171.9,553.2 168.3,554.4" fill="#444444"/>
<polygon points="161.9,631.4 168.5,632.5 168.3,554.4 161.6,553.7" fill="#545454"/>
<polygon points="161.6,553.7 168.3,554.4 171.9,553.2 165.2,552.5" fill="#626262"/>
<polygon points="100.2,634.3 104.4,632.3 103.4,572.8 99.1,574.3" fill="#808080"/>
<polygon points="93.9,633.2 100.2,634.3 99.1,574.3 92.7,573.5" fill="#a6a6a6"/>
<polygon points="92.7,573.5 99.1,574.3 103.4,572.8 97.1,572.0" fill="#b4b4b4"/>
<polygon points="142.6,634.8 146.5,632.8 145.9,559.2 142.0,560.6" fill="#626262"/>
<polygon points="136.1,633.7 142.6,634.8 142.0,560.6 135.4,559.8" fill="#7a7a7a"/>
<polygon points="135.4,559.8 142.0,560.6 145.9,559.2 139.3,558.5" fill="#888888"/>
<polygon points="228.5,635.9 231.5,633.8 231.9,601.0 228.9,602.7" fill="#141414"/>
<polygon points="221.4,634.8 228.5,635.9 228.9,602.7 221.8,601.8" fill="#242424"/>
<polygon points="221.8,601.8 228.9,602.7 231.9,601.0 224.8,600.0" fill="#303030"/>
<polygon points="185.4,635.4 188.8,633.3 189.0,568.0 185.5,569.5" fill="#444444"/>
<polygon points="178.6,634.2 185.4,635.4 185.5,569.5 178.6,568.7" fill="#545454"/>
<polygon points="178.6,568.7 185.5,569.5 189.0,568.0 182.1,567.3" fill="#626262"/>
<polygon points="116.2,637.2 120.4,635.1 119.6,577.0 115.4,578.5" fill="#808080"/>
<polygon points="109.8,636.0 116.2,637.2 115.4,578.5 108.8,577.7" fill="#a6a6a6"/>
<polygon points="108.8,577.7 115.4,578.5 119.6,577.0 113.1,576.2" fill="#b4b4b4"/>
<polygon points="159.4,637.7 163.1,635.6 162.8,558.1 159.0,559.5" fill="#626262"/>
<polygon points="152.6,636.6 159.4,637.7 159.0,559.5 152.2,558.7" fill="#7a7a7a"/>
<polygon points="152.2,558.7 159.0,559.5 162.8,558.1 156.0,557.4" fill="#888888"/>
<polygon points="202.8,638.3 206.1,636.2 206.4,588.4 203.1,590.1" fill="#444444"/>
<polygon points="195.8,637.1 202.8,638.3 203.1,590.1 196.0,589.2" fill="#545454"/>
<polygon points="196.0,589.2 203.1,590.1 206.4,588.4 199.4,587.5" fill="#626262"/>
<polygon points="89.3,639.6 93.7,637.4 92.8,590.7 88.3,592.4" fill="#9a9a9a" stroke="#8a8a8a" stroke-width="0.4" stroke-linejoin="round"/>
<polygon points="82.9,638.4 89.3,639.6 88.3,592.4 81.9,591.5" fill="#dcdcdc" stroke="#8a8a8a" stroke-width="0.4" stroke-linejoin="round"/>
<polygon points="81.9,591.5 88.3,592.4 92.8,590.7 86.4,589.8" fill="#e6e6e6" stroke="#8a8a8a" stroke-width="0.4" stroke-linejoin="round"/>
<polygon points="132.8,640.1 136.8,638.0 136.2,577.0 132.1,578.6" fill="#808080"/>
<polygon points="126.1,638.9 132.8,640.1 132.1,578.6 125.4,577.8" fill="#a6a6a6"/>
<polygon points="125.4,577.8 132.1,578.6 136.2,577.0 129.5,576.2" fill="#b4b4b4"/>
<polygon points="220.7,641.3 223.9,639.1 224.2,610.9 221.0,612.8" fill="#444444"/>
<polygon points="213.5,640.1 220.7,641.3 221.0,612.8 213.7,611.7" fill="#545454"/>
<polygon points="213.7,611.7 221.0,612.8 224.2,610.9 217.0,609.8" fill="#626262"/>
<polygon points="176.6,640.7 180.2,638.5 180.2,581.6 176.6,583.2" fill="#626262"/>
<polygon points="169.6,639.5 176.6,640.7 176.6,583.2 169.5,582.3" fill="#7a7a7a"/>
<polygon points="169.5,582.3 176.6,583.2 180.2,581.6 173.2,580.7" fill="#888888"/>
<polygon points="105.6,642.6 109.9,640.4 109.2,597.9 104.9,599.7" fill="#9a9a9a" stroke="#8a8a8a" stroke-width="0.4" stroke-linejoin="round"/>
<polygon points="99.0,641.4 105.6,642.6 104.9,599.7 98.2,598.8" fill="#dcdcdc" stroke="#8a8a8a" stroke-width="0.4" stroke-linejoin="round"/>
<polygon points="98.2,598.8 104.9,599.7 109.2,597.9 102.6,597.0" fill="#e6e6e6" stroke="#8a8a8a" stroke-width="0.4" stroke-linejoin="round"/>
<polygon points="149.8,643.2 153.7,641.0 153.3,575.8 149.3,577.4" fill="#808080"/>
<polygon points="142.9,642.0 149.8,643.2 149.3,577.4 142.4,576.5" fill="#a6a6a6"/>
<polygon points="142.4,576.5 149.3,577.4 153.3,575.8 146.4,575.0" fill="#b4b4b4"/>
<polygon points="77.8,645.1 82.5,642.9 82.1,623.5 77.4,625.6" fill="#a8a8a8" stroke="#8a8a8a" stroke-width="0.4" stroke-linejoin="round"/>
<polygon points="71.3,643.9 77.8,645.1 77.4,625.6 70.9,624.4" fill="#eeeeee" stroke="#8a8a8a" stroke-width="0.4" stroke-linejoin="round"/>
<polygon points="70.9,624.4 77.4,625.6 82.1,623.5 75.6,622.4" fill="#f4f4f4" stroke="#8a8a8a" stroke-width="0.4" stroke-linejoin="round"/>
<polygon points="194.3,643.8 197.8,641.5 197.9,602.9 194.4,604.8" fill="#626262"/>
<polygon points="187.1,642.5 194.3,643.8 194.4,604.8 187.2,603.7" fill="#7a7a7a"/>
<polygon points="187.2,603.7 194.4,604.8 197.9,602.9 190.8,601.9" fill="#888888"/>
<polygon points="122.4,645.7 126.6,643.5 126.1,602.2 121.8,604.1" fill="#9a9a9a" stroke="#8a8a8a" stroke-width="0.4" stroke-linejoin="round"/>
<polygon points="115.6,644.5 122.4,645.7 121.8,604.1 115.0,603.0" fill="#dcdcdc" stroke="#8a8a8a" stroke-width="0.4" stroke-linejoin="round"/>
<polygon points="115.0,603.0 121.8,604.1 126.1,602.2 119.3,601.2" fill="#e6e6e6" stroke="#8a8a8a" stroke-width="0.4" stroke-linejoin="round"/>
<polygon points="212.6,646.9 215.9,644.6 216.1,624.7 212.7,626.8" fill="#626262"/>
<polygon points="205.2,645.7 212.6,646.9 212.7,626.8 205.3,625.6" fill="#7a7a7a"/>
<polygon points="205.3,625.6 212.7,626.8 216.1,624.7 208.7,623.5" fill="#888888"/>
<polygon points="167.3,646.3 171.1,644.0 171.0,602.9 167.2,604.8" fill="#808080"/>
<polygon points="160.2,645.1 167.3,646.3 167.2,604.8 160.0,603.8" fill="#a6a6a6"/>
<polygon points="160.0,603.8 167.2,604.8 171.0,602.9 163.9,601.9" fill="#b4b4b4"/>
<polygon points="94.4,648.3 98.9,646.0 98.6,630.4 94.1,632.6" fill="#a8a8a8" stroke="#8a8a8a" stroke-width="0.4" stroke-linejoin="round"/>
<polygon points="87.7,647.0 94.4,648.3 94.1,632.6 87.4,631.4" fill="#eeeeee" stroke="#8a8a8a" stroke-width="0.4" stroke-linejoin="round"/>
<polygon points="87.4,631.4 94.1,632.6 98.6,630.4 92.0,629.2" fill="#f4f4f4" stroke="#8a8a8a" stroke-width="0.4" stroke-linejoin="round"/>
<polygon points="65.8,651.0 70.7,648.6 70.5,642.2 65.6,644.5" fill="#b4b4b4" stroke="#8a8a8a" stroke-width="0.4" stroke-linejoin="round"/>
<polygon points="59.2,649.6 65.8,651.0 65.6,644.5 59.0,643.3" fill="#f4f4f4" stroke="#8a8a8a" stroke-width="0.4" stroke-linejoin="round"/>
<polygon points="59.0,643.3 65.6,644.5 70.5,642.2 64.0,641.0" fill="#f8f8f8" stroke="#8a8a8a" stroke-width="0.4" stroke-linejoin="round"/>
<polygon points="139.7,648.9 143.8,646.6 143.4,604.2 139.3,606.1" fill="#9a9a9a" stroke="#8a8a8a" stroke-width="0.4" stroke-linejoin="round"/>
<polygon points="132.7,647.6 139.7,648.9 139.3,606.1 132.2,605.1" fill="#dcdcdc" stroke="#8a8a8a" stroke-width="0.4" stroke-linejoin="round"/>
<polygon points="132.2,605.1 139.3,606.1 143.4,604.2 136.4,603.2" fill="#e6e6e6" stroke="#8a8a8a" stroke-width="0.4" stroke-linejoin="round"/>
<polygon points="185.3,649.6 189.0,647.2 189.0,621.0 185.4,623.1" fill="#808080"/>
<polygon points="178.0,648.3 185.3,649.6 185.4,623.1 178.0,621.9" fill="#a6a6a6"/>
<polygon points="178.0,621.9 185.4,623.1 189.0,621.0 181.8,619.9" fill="#b4b4b4"/>
<polygon points="111.4,651.6 115.9,649.2 115.6,633.6 111.2,635.8" fill="#a8a8a8" stroke="#8a8a8a" stroke-width="0.4" stroke-linejoin="round"/>
<polygon points="104.5,650.3 111.4,651.6 111.2,635.8 104.3,634.6" fill="#eeeeee" stroke="#8a8a8a" stroke-width="0.4" stroke-linejoin="round"/>
<polygon points="104.3,634.6 111.2,635.8 115.6,633.6 108.8,632.4" fill="#f4f4f4" stroke="#8a8a8a" stroke-width="0.4" stroke-linejoin="round"/>
<polygon points="157.5,652.2 161.5,649.8 161.4,626.8 157.4,629.0" fill="#9a9a9a" stroke="#8a8a8a" stroke-width="0.4" stroke-linejoin="round"/>
<polygon points="150.3,650.9 157.5,652.2 157.4,629.0 150.1,627.8" fill="#dcdcdc" stroke="#8a8a8a" stroke-width="0.4" stroke-linejoin="round"/>
<polygon points="150.1,627.8 157.4,629.0 161.4,626.8 154.2,625.6" fill="#e6e6e6" stroke="#8a8a8a" stroke-width="0.4" stroke-linejoin="round"/>
<polygon points="203.9,652.9 207.4,650.5 207.5,638.3 204.0,640.6" fill="#808080"/>
<polygon points="196.4,651.6 203.9,652.9 204.0,640.6 196.5,639.4" fill="#a6a6a6"/>
<polygon points="196.5,639.4 204.0,640.6 207.5,638.3 200.0,637.1" fill="#b4b4b4"/>
<polygon points="82.6,654.3 87.4,651.9 87.3,648.2 82.5,650.6" fill="#b4b4b4" stroke="#8a8a8a" stroke-width="0.4" stroke-linejoin="round"/>
<polygon points="75.8,653.0 82.6,654.3 82.5,650.6 75.7,649.3" fill="#f4f4f4" stroke="#8a8a8a" stroke-width="0.4" stroke-linejoin="round"/>
<polygon points="75.7,649.3 82.5,650.6 87.3,648.2 80.5,646.9" fill="#f8f8f8" stroke="#8a8a8a" stroke-width="0.4" stroke-linejoin="round"/>
<polygon points="129.0,655.0 133.3,652.5 133.2,638.5 128.9,640.9" fill="#a8a8a8" stroke="#8a8a8a" stroke-width="0.4" stroke-linejoin="round"/>
<polygon points="121.9,653.6 129.0,655.0 128.9,640.9 121.7,639.6" fill="#eeeeee" stroke="#8a8a8a" stroke-width="0.4" stroke-linejoin="round"/>
<polygon points="121.7,639.6 128.9,640.9 133.2,638.5 126.1,637.3" fill="#f4f4f4" stroke="#8a8a8a" stroke-width="0.4" stroke-linejoin="round"/>
<polygon points="175.9,655.7 179.7,653.2 179.7,641.7 175.9,644.1" fill="#9a9a9a" stroke="#8a8a8a" stroke-width="0.4" stroke-linejoin="round"/>
<polygon points="168.4,654.3 175.9,655.7 175.9,644.1 168.4,642.8" fill="#dcdcdc" stroke="#8a8a8a" stroke-width="0.4" stroke-linejoin="round"/>
<polygon points="168.4,642.8 175.9,644.1 179.7,641.7 172.3,640.5" fill="#e6e6e6" stroke="#8a8a8a" stroke-width="0.4" stroke-linejoin="round"/>
<polygon points="99.9,657.8 104.6,655.3 104.6,653.9 99.9,656.4" fill="#b4b4b4" stroke="#7a7a7a" stroke-width="0.9" stroke-linejoin="round"/>
<polygon points="92.9,656.4 99.9,657.8 99.9,656.4 92.9,655.0" fill="#f4f4f4" stroke="#7a7a7a" stroke-width="0.9" stroke-linejoin="round"/>
<polygon points="92.9,655.0 99.9,656.4 104.6,653.9 97.6,652.5" fill="#f8f8f8" stroke="#7a7a7a" stroke-width="0.9" stroke-linejoin="round"/>
<polygon points="147.2,658.5 151.4,656.0 151.3,651.1 147.1,653.6" fill="#a8a8a8" stroke="#8a8a8a" stroke-width="0.4" stroke-linejoin="round"/>
<polygon points="139.8,657.1 147.2,658.5 147.1,653.6 139.8,652.2" fill="#eeeeee" stroke="#8a8a8a" stroke-width="0.4" stroke-linejoin="round"/>
<polygon points="139.8,652.2 147.1,653.6 151.3,651.1 144.0,649.7" fill="#f4f4f4" stroke="#8a8a8a" stroke-width="0.4" stroke-linejoin="round"/>
<polygon points="194.8,659.2 198.5,656.6 198.5,652.4 194.8,654.9" fill="#9a9a9a" stroke="#8a8a8a" stroke-width="0.4" stroke-linejoin="round"/>
<polygon points="187.2,657.8 194.8,659.2 194.8,654.9 187.2,653.5" fill="#dcdcdc" stroke="#8a8a8a" stroke-width="0.4" stroke-linejoin="round"/>
<polygon points="187.2,653.5 194.8,654.9 198.5,652.4 190.9,651.0" fill="#e6e6e6" stroke="#8a8a8a" stroke-width="0.4" stroke-linejoin="round"/>
<polygon points="117.8,661.4 122.3,658.8 122.3,657.6 117.8,660.2" fill="#b4b4b4" stroke="#7a7a7a" stroke-width="0.9" stroke-linejoin="round"/>
<polygon points="110.6,659.9 117.8,661.4 117.8,660.2 110.5,658.8" fill="#f4f4f4" stroke="#7a7a7a" stroke-width="0.9" stroke-linejoin="round"/>
<polygon points="110.5,658.8 117.8,660.2 122.3,657.6 115.2,656.2" fill="#f8f8f8" stroke="#7a7a7a" stroke-width="0.9" stroke-linejoin="round"/>
<polygon points="165.9,662.1 169.9,659.5 169.9,658.1 165.9,660.7" fill="#a8a8a8" stroke="#7a7a7a" stroke-width="0.9" stroke-linejoin="round"/>
<polygon points="158.3,660.6 165.9,662.1 165.9,660.7 158.3,659.2" fill="#eeeeee" stroke="#7a7a7a" stroke-width="0.9" stroke-linejoin="round"/>
<polygon points="158.3,659.2 165.9,660.7 169.9,658.1 162.4,656.6" fill="#f4f4f4" stroke="#7a7a7a" stroke-width="0.9" stroke-linejoin="round"/>
<polygon points="136.2,665.1 140.7,662.4 140.7,661.2 136.2,663.9" fill="#b4b4b4" stroke="#7a7a7a" stroke-width="0.9" stroke-linejoin="round"/>
<polygon points="128.8,663.6 136.2,665.1 136.2,663.9 128.8,662.4" fill="#f4f4f4" stroke="#7a7a7a" stroke-width="0.9" stroke-linejoin="round"/>
<polygon points="128.8,662.4 136.2,663.9 140.7,661.2 133.3,659.8" fill="#f8f8f8" stroke="#7a7a7a" stroke-width="0.9" stroke-linejoin="round"/>
<polygon points="185.2,665.8 189.1,663.1 189.1,662.2 185.2,664.9" fill="#a8a8a8" stroke="#7a7a7a" stroke-width="0.9" stroke-linejoin="round"/>
<polygon points="177.4,664.3 185.2,665.8 185.2,664.9 177.4,663.4" fill="#eeeeee" stroke="#7a7a7a" stroke-width="0.9" stroke-linejoin="round"/>
<polygon points="177.4,663.4 185.2,664.9 189.1,662.2 181.4,660.7" fill="#f4f4f4" stroke="#7a7a7a" stroke-width="0.9" stroke-linejoin="round"/>
<polygon points="155.3,668.9 159.6,666.1 159.6,665.2 155.3,667.9" fill="#b4b4b4" stroke="#7a7a7a" stroke-width="0.9" stroke-linejoin="round"/>
<polygon points="147.6,667.4 155.3,668.9 155.3,667.9 147.6,666.4" fill="#f4f4f4" stroke="#7a7a7a" stroke-width="0.9" stroke-linejoin="round"/>
<polygon points="147.6,666.4 155.3,667.9 159.6,665.2 152.0,663.7" fill="#f8f8f8" stroke="#7a7a7a" stroke-width="0.9" stroke-linejoin="round"/>
<polygon points="175.0,672.9 179.2,670.0 179.2,669.0 175.0,671.9" fill="#b4b4b4" stroke="#7a7a7a" stroke-width="0.9" stroke-linejoin="round"/>
<polygon points="167.1,671.3 175.0,672.9 175.0,671.9 167.1,670.3" fill="#f4f4f4" stroke="#7a7a7a" stroke-width="0.9" stroke-linejoin="round"/>
<polygon points="167.1,670.3 175.0,671.9 179.2,669.0 171.3,667.5" fill="#f8f8f8" stroke="#7a7a7a" stroke-width="0.9" stroke-linejoin="round"/>
<text transform="translate(53.8,661.8) rotate(-40)" y="3.0" font-size="8.7" style="stroke-width:0.05px" text-anchor="middle" fill="#222">0</text>
<text transform="translate(68.8,667.0) rotate(-40)" y="3.0" font-size="8.7" style="stroke-width:0.05px" text-anchor="middle" fill="#222">25</text>
<text transform="translate(86.2,670.0) rotate(-40)" y="3.0" font-size="8.7" style="stroke-width:0.05px" text-anchor="middle" fill="#222">50</text>
<text transform="translate(104.6,674.8) rotate(-40)" y="3.0" font-size="8.7" style="stroke-width:0.05px" text-anchor="middle" fill="#222">100</text>
<text transform="translate(121.2,678.8) rotate(-40)" y="3.0" font-size="8.7" style="stroke-width:0.05px" text-anchor="middle" fill="#222">200</text>
<text transform="translate(140.4,683.4) rotate(-40)" y="3.0" font-size="8.7" style="stroke-width:0.05px" text-anchor="middle" fill="#222">400</text>
<text transform="translate(160.4,686.2) rotate(-40)" y="3.0" font-size="8.7" style="stroke-width:0.05px" text-anchor="middle" fill="#222">800</text>
<text transform="translate(192.4,679.8) rotate(34)" y="3.0" font-size="8.7" style="stroke-width:0.05px" text-anchor="middle" fill="#222">40</text>
<text transform="translate(202.5,671.7) rotate(34)" y="3.0" font-size="8.7" style="stroke-width:0.05px" text-anchor="middle" fill="#222">20</text>
<text transform="translate(212.6,664.7) rotate(34)" y="3.0" font-size="8.7" style="stroke-width:0.05px" text-anchor="middle" fill="#222">10</text>
<text transform="translate(220.3,657.6) rotate(34)" y="3.0" font-size="8.7" style="stroke-width:0.05px" text-anchor="middle" fill="#222">5</text>
<text transform="translate(232.8,653.1) rotate(34)" y="3.0" font-size="8.7" style="stroke-width:0.05px" text-anchor="middle" fill="#222">2.5</text>
<text transform="translate(244.2,648.8) rotate(34)" y="3.0" font-size="8.7" style="stroke-width:0.05px" text-anchor="middle" fill="#222">1.25</text>
<text transform="translate(247.2,638.7) rotate(34)" y="3.0" font-size="8.7" style="stroke-width:0.05px" text-anchor="middle" fill="#222">0</text>
<polyline points="306.1,651.0 381.5,615.8 494.7,633.7" fill="none" stroke="#a9a9a9" stroke-width="0.9"/>
<line x1="303.6" y1="651.0" x2="306.1" y2="651.0" stroke="#a9a9a9" stroke-width="0.9"/>
<text x="292.4" y="654.0" font-size="8.7" text-anchor="end" font-weight="normal" fill="#222"  style="stroke-width:0.05px">0</text>
<polyline points="305.6,632.7 381.3,600.2 494.9,616.6" fill="none" stroke="#a9a9a9" stroke-width="0.9"/>
<line x1="303.1" y1="632.7" x2="305.6" y2="632.7" stroke="#a9a9a9" stroke-width="0.9"/>
<text x="292.4" y="635.7" font-size="8.7" text-anchor="end" font-weight="normal" fill="#222"  style="stroke-width:0.05px">20</text>
<polyline points="305.0,614.2 381.1,584.5 495.1,599.4" fill="none" stroke="#a9a9a9" stroke-width="0.9"/>
<line x1="302.5" y1="614.2" x2="305.0" y2="614.2" stroke="#a9a9a9" stroke-width="0.9"/>
<text x="292.4" y="617.2" font-size="8.7" text-anchor="end" font-weight="normal" fill="#222"  style="stroke-width:0.05px">40</text>
<polyline points="304.5,595.5 380.9,568.6 495.4,582.1" fill="none" stroke="#a9a9a9" stroke-width="0.9"/>
<line x1="302.0" y1="595.5" x2="304.5" y2="595.5" stroke="#a9a9a9" stroke-width="0.9"/>
<text x="294.7" y="598.5" font-size="8.7" text-anchor="end" font-weight="normal" fill="#222"  style="stroke-width:0.05px">60</text>
<polyline points="303.9,576.7 380.7,552.7 495.6,564.6" fill="none" stroke="#a9a9a9" stroke-width="0.9"/>
<line x1="301.4" y1="576.7" x2="303.9" y2="576.7" stroke="#a9a9a9" stroke-width="0.9"/>
<text x="292.4" y="579.7" font-size="8.7" text-anchor="end" font-weight="normal" fill="#222"  style="stroke-width:0.05px">80</text>
<polyline points="303.4,557.7 380.6,536.6 495.9,546.9" fill="none" stroke="#a9a9a9" stroke-width="0.9"/>
<line x1="300.9" y1="557.7" x2="303.4" y2="557.7" stroke="#a9a9a9" stroke-width="0.9"/>
<text x="292.4" y="560.7" font-size="8.7" text-anchor="end" font-weight="normal" fill="#222"  style="stroke-width:0.05px">100</text>
<polyline points="302.8,538.6 380.4,520.4 496.1,529.2" fill="none" stroke="#a9a9a9" stroke-width="0.9"/>
<line x1="300.3" y1="538.6" x2="302.8" y2="538.6" stroke="#a9a9a9" stroke-width="0.9"/>
<text x="292.4" y="541.6" font-size="8.7" text-anchor="end" font-weight="normal" fill="#222"  style="stroke-width:0.05px">120</text>
<line x1="306.1" y1="651.0" x2="302.8" y2="538.6" stroke="#a9a9a9" stroke-width="0.9"/>
<polyline points="306.1,651.0 433.6,676.9 494.7,633.7" fill="none" stroke="#a9a9a9" stroke-width="0.9"/>
<line x1="306.1" y1="651.0" x2="305.1" y2="653.5" stroke="#a9a9a9" stroke-width="0.8"/>
<line x1="322.6" y1="654.4" x2="321.6" y2="656.9" stroke="#a9a9a9" stroke-width="0.8"/>
<line x1="339.7" y1="657.8" x2="338.7" y2="660.3" stroke="#a9a9a9" stroke-width="0.8"/>
<line x1="357.2" y1="661.4" x2="356.2" y2="663.9" stroke="#a9a9a9" stroke-width="0.8"/>
<line x1="375.4" y1="665.1" x2="374.4" y2="667.6" stroke="#a9a9a9" stroke-width="0.8"/>
<line x1="394.1" y1="668.9" x2="393.1" y2="671.4" stroke="#a9a9a9" stroke-width="0.8"/>
<line x1="413.5" y1="672.8" x2="412.5" y2="675.3" stroke="#a9a9a9" stroke-width="0.8"/>
<line x1="433.6" y1="676.9" x2="432.6" y2="679.4" stroke="#a9a9a9" stroke-width="0.8"/>
<line x1="433.6" y1="676.9" x2="435.9" y2="678.4" stroke="#a9a9a9" stroke-width="0.8"/>
<line x1="443.8" y1="669.7" x2="446.1" y2="671.2" stroke="#a9a9a9" stroke-width="0.8"/>
<line x1="453.4" y1="662.8" x2="455.7" y2="664.3" stroke="#a9a9a9" stroke-width="0.8"/>
<line x1="462.6" y1="656.4" x2="464.9" y2="657.9" stroke="#a9a9a9" stroke-width="0.8"/>
<line x1="471.2" y1="650.3" x2="473.5" y2="651.8" stroke="#a9a9a9" stroke-width="0.8"/>
<line x1="479.4" y1="644.5" x2="481.7" y2="646.0" stroke="#a9a9a9" stroke-width="0.8"/>
<line x1="487.2" y1="639.0" x2="489.5" y2="640.5" stroke="#a9a9a9" stroke-width="0.8"/>
<line x1="494.7" y1="633.7" x2="497.0" y2="635.2" stroke="#a9a9a9" stroke-width="0.8"/>
<polygon points="385.5,620.5 389.2,618.7 388.4,539.7 384.6,540.8" fill="#141414"/>
<polygon points="379.5,619.5 385.5,620.5 384.6,540.8 378.5,540.2" fill="#242424"/>
<polygon points="378.5,540.2 384.6,540.8 388.4,539.7 382.3,539.2" fill="#303030"/>
<polygon points="400.9,623.0 404.4,621.2 403.9,541.6 400.3,542.7" fill="#141414"/>
<polygon points="394.7,622.0 400.9,623.0 400.3,542.7 394.0,542.2" fill="#242424"/>
<polygon points="394.0,542.2 400.3,542.7 403.9,541.6 397.6,541.1" fill="#303030"/>
<polygon points="376.1,625.1 379.9,623.2 379.0,547.3 375.1,548.5" fill="#444444"/>
<polygon points="370.0,624.1 376.1,625.1 375.1,548.5 368.8,547.8" fill="#545454"/>
<polygon points="368.8,547.8 375.1,548.5 379.0,547.3 372.8,546.7" fill="#626262"/>
<polygon points="416.6,625.6 420.1,623.7 419.8,542.0 416.3,543.1" fill="#141414"/>
<polygon points="410.3,624.5 416.6,625.6 416.3,543.1 409.8,542.5" fill="#242424"/>
<polygon points="409.8,542.5 416.3,543.1 419.8,542.0 413.4,541.4" fill="#303030"/>
<polygon points="391.6,627.7 395.4,625.8 394.7,553.1 390.9,554.3" fill="#444444"/>
<polygon points="385.4,626.6 391.6,627.7 390.9,554.3 384.6,553.7" fill="#545454"/>
<polygon points="384.6,553.7 390.9,554.3 394.7,553.1 388.4,552.4" fill="#626262"/>
<polygon points="432.8,628.2 436.2,626.3 436.2,535.9 432.8,537.0" fill="#141414"/>
<polygon points="426.3,627.1 432.8,628.2 432.8,537.0 426.1,536.4" fill="#242424"/>
<polygon points="426.1,536.4 432.8,537.0 436.2,535.9 429.6,535.4" fill="#303030"/>
<polygon points="366.2,629.9 370.2,627.9 369.1,551.4 365.0,552.7" fill="#626262"/>
<polygon points="360.0,628.8 366.2,629.9 365.0,552.7 358.7,552.0" fill="#7a7a7a"/>
<polygon points="358.7,552.0 365.0,552.7 369.1,551.4 362.8,550.8" fill="#888888"/>
<polygon points="407.6,630.4 411.3,628.4 410.9,555.9 407.2,557.2" fill="#444444"/>
<polygon points="401.2,629.3 407.6,630.4 407.2,557.2 400.6,556.5" fill="#545454"/>
<polygon points="400.6,556.5 407.2,557.2 410.9,555.9 404.4,555.3" fill="#626262"/>
<polygon points="449.4,630.9 452.7,628.9 453.1,544.8 449.7,546.0" fill="#141414"/>
<polygon points="442.7,629.8 449.4,630.9 449.7,546.0 442.9,545.3" fill="#242424"/>
<polygon points="442.9,545.3 449.7,546.0 453.1,544.8 446.3,544.2" fill="#303030"/>
<polygon points="382.0,632.6 385.9,630.6 385.1,559.5 381.1,560.8" fill="#626262"/>
<polygon points="375.6,631.5 382.0,632.6 381.1,560.8 374.7,560.1" fill="#7a7a7a"/>
<polygon points="374.7,560.1 381.1,560.8 385.1,559.5 378.7,558.8" fill="#888888"/>
<polygon points="466.5,633.7 469.7,631.6 470.4,549.2 467.2,550.4" fill="#141414"/>
<polygon points="459.6,632.5 466.5,633.7 467.2,550.4 460.1,549.7" fill="#242424"/>
<polygon points="460.1,549.7 467.2,550.4 470.4,549.2 463.4,548.5" fill="#303030"/>
<polygon points="424.1,633.1 427.6,631.1 427.5,545.0 423.9,546.2" fill="#444444"/>
<polygon points="417.5,632.0 424.1,633.1 423.9,546.2 417.1,545.5" fill="#545454"/>
<polygon points="417.1,545.5 423.9,546.2 427.5,545.0 420.8,544.3" fill="#626262"/>
<polygon points="355.8,634.9 360.0,632.9 359.3,590.5 355.0,592.1" fill="#808080"/>
<polygon points="349.5,633.8 355.8,634.9 355.0,592.1 348.7,591.2" fill="#a6a6a6"/>
<polygon points="348.7,591.2 355.0,592.1 359.3,590.5 353.0,589.6" fill="#b4b4b4"/>
<polygon points="398.2,635.4 402.1,633.4 401.5,562.4 397.7,563.8" fill="#626262"/>
<polygon points="391.7,634.3 398.2,635.4 397.7,563.8 391.0,563.1" fill="#7a7a7a"/>
<polygon points="391.0,563.1 397.7,563.8 401.5,562.4 394.9,561.7" fill="#888888"/>
<polygon points="484.1,636.5 487.1,634.4 488.2,551.1 485.1,552.4" fill="#141414"/>
<polygon points="477.0,635.4 484.1,636.5 485.1,552.4 477.9,551.7" fill="#242424"/>
<polygon points="477.9,551.7 485.1,552.4 488.2,551.1 481.0,550.4" fill="#303030"/>
<polygon points="441.0,636.0 444.4,633.9 444.6,556.0 441.1,557.3" fill="#444444"/>
<polygon points="434.2,634.8 441.0,636.0 441.1,557.3 434.2,556.6" fill="#545454"/>
<polygon points="434.2,556.6 441.1,557.3 444.6,556.0 437.7,555.3" fill="#626262"/>
<polygon points="371.8,637.8 376.0,635.7 375.5,597.6 371.3,599.4" fill="#808080"/>
<polygon points="365.4,636.6 371.8,637.8 371.3,599.4 364.8,598.4" fill="#a6a6a6"/>
<polygon points="364.8,598.4 371.3,599.4 375.5,597.6 369.0,596.7" fill="#b4b4b4"/>
<polygon points="415.0,638.3 418.7,636.2 418.4,550.7 414.6,552.0" fill="#626262"/>
<polygon points="408.2,637.2 415.0,638.3 414.6,552.0 407.7,551.3" fill="#7a7a7a"/>
<polygon points="407.7,551.3 414.6,552.0 418.4,550.7 411.5,550.0" fill="#888888"/>
<polygon points="458.4,638.9 461.7,636.8 462.2,561.5 458.9,562.9" fill="#444444"/>
<polygon points="451.4,637.7 458.4,638.9 458.9,562.9 451.7,562.2" fill="#545454"/>
<polygon points="451.7,562.2 458.9,562.9 462.2,561.5 455.1,560.8" fill="#626262"/>
<polygon points="344.9,640.2 349.3,638.0 349.2,629.6 344.7,631.7" fill="#9a9a9a" stroke="#8a8a8a" stroke-width="0.4" stroke-linejoin="round"/>
<polygon points="338.5,639.0 344.9,640.2 344.7,631.7 338.3,630.6" fill="#dcdcdc" stroke="#8a8a8a" stroke-width="0.4" stroke-linejoin="round"/>
<polygon points="338.3,630.6 344.7,631.7 349.2,629.6 342.8,628.5" fill="#e6e6e6" stroke="#8a8a8a" stroke-width="0.4" stroke-linejoin="round"/>
<polygon points="388.4,640.7 392.4,638.6 392.0,600.2 388.0,602.0" fill="#808080"/>
<polygon points="381.7,639.5 388.4,640.7 388.0,602.0 381.2,601.0" fill="#a6a6a6"/>
<polygon points="381.2,601.0 388.0,602.0 392.0,600.2 385.3,599.2" fill="#b4b4b4"/>
<polygon points="476.3,641.9 479.5,639.7 480.2,570.2 477.0,571.7" fill="#444444"/>
<polygon points="469.1,640.7 476.3,641.9 477.0,571.7 469.7,570.9" fill="#545454"/>
<polygon points="469.7,570.9 477.0,571.7 480.2,570.2 472.9,569.4" fill="#626262"/>
<polygon points="432.2,641.3 435.8,639.1 435.8,568.2 432.1,569.7" fill="#626262"/>
<polygon points="425.2,640.1 432.2,641.3 432.1,569.7 425.1,568.9" fill="#7a7a7a"/>
<polygon points="425.1,568.9 432.1,569.7 435.8,568.2 428.8,567.4" fill="#888888"/>
<polygon points="361.2,643.2 365.5,641.0 365.4,635.6 361.1,637.7" fill="#9a9a9a" stroke="#8a8a8a" stroke-width="0.4" stroke-linejoin="round"/>
<polygon points="354.6,642.0 361.2,643.2 361.1,637.7 354.5,636.5" fill="#dcdcdc" stroke="#8a8a8a" stroke-width="0.4" stroke-linejoin="round"/>
<polygon points="354.5,636.5 361.1,637.7 365.4,635.6 358.9,634.4" fill="#e6e6e6" stroke="#8a8a8a" stroke-width="0.4" stroke-linejoin="round"/>
<polygon points="405.4,643.8 409.3,641.6 409.0,591.6 405.0,593.3" fill="#808080"/>
<polygon points="398.5,642.6 405.4,643.8 405.0,593.3 398.1,592.4" fill="#a6a6a6"/>
<polygon points="398.1,592.4 405.0,593.3 409.0,591.6 402.1,590.7" fill="#b4b4b4"/>
<polygon points="333.4,645.7 338.1,643.5 338.0,639.9 333.3,642.1" fill="#a8a8a8" stroke="#8a8a8a" stroke-width="0.4" stroke-linejoin="round"/>
<polygon points="326.9,644.5 333.4,645.7 333.3,642.1 326.9,640.9" fill="#eeeeee" stroke="#8a8a8a" stroke-width="0.4" stroke-linejoin="round"/>
<polygon points="326.9,640.9 333.3,642.1 338.0,639.9 331.6,638.7" fill="#f4f4f4" stroke="#8a8a8a" stroke-width="0.4" stroke-linejoin="round"/>
<polygon points="449.9,644.4 453.4,642.1 453.6,579.8 450.1,581.4" fill="#626262"/>
<polygon points="442.7,643.1 449.9,644.4 450.1,581.4 442.9,580.6" fill="#7a7a7a"/>
<polygon points="442.9,580.6 450.1,581.4 453.6,579.8 446.4,579.0" fill="#888888"/>
<polygon points="378.0,646.3 382.2,644.1 382.1,638.9 377.9,641.1" fill="#9a9a9a" stroke="#8a8a8a" stroke-width="0.4" stroke-linejoin="round"/>
<polygon points="371.2,645.1 378.0,646.3 377.9,641.1 371.1,639.9" fill="#dcdcdc" stroke="#8a8a8a" stroke-width="0.4" stroke-linejoin="round"/>
<polygon points="371.1,639.9 377.9,641.1 382.1,638.9 375.4,637.7" fill="#e6e6e6" stroke="#8a8a8a" stroke-width="0.4" stroke-linejoin="round"/>
<polygon points="468.2,647.5 471.5,645.2 471.9,592.3 468.6,594.1" fill="#626262"/>
<polygon points="460.8,646.3 468.2,647.5 468.6,594.1 461.1,593.1" fill="#7a7a7a"/>
<polygon points="461.1,593.1 468.6,594.1 471.9,592.3 464.5,591.4" fill="#888888"/>
<polygon points="422.9,646.9 426.7,644.6 426.6,613.9 422.8,615.9" fill="#808080"/>
<polygon points="415.8,645.7 422.9,646.9 422.8,615.9 415.7,614.8" fill="#a6a6a6"/>
<polygon points="415.7,614.8 422.8,615.9 426.6,613.9 419.5,612.9" fill="#b4b4b4"/>
<polygon points="350.0,648.9 354.5,646.6 354.5,645.5 350.0,647.8" fill="#a8a8a8" stroke="#7a7a7a" stroke-width="0.9" stroke-linejoin="round"/>
<polygon points="343.3,647.6 350.0,648.9 350.0,647.8 343.3,646.5" fill="#eeeeee" stroke="#7a7a7a" stroke-width="0.9" stroke-linejoin="round"/>
<polygon points="343.3,646.5 350.0,647.8 354.5,645.5 347.9,644.3" fill="#f4f4f4" stroke="#7a7a7a" stroke-width="0.9" stroke-linejoin="round"/>
<polygon points="321.4,651.6 326.3,649.2 326.1,644.7 321.2,647.1" fill="#b4b4b4" stroke="#8a8a8a" stroke-width="0.4" stroke-linejoin="round"/>
<polygon points="314.8,650.2 321.4,651.6 321.2,647.1 314.7,645.8" fill="#f4f4f4" stroke="#8a8a8a" stroke-width="0.4" stroke-linejoin="round"/>
<polygon points="314.7,645.8 321.2,647.1 326.1,644.7 319.6,643.5" fill="#f8f8f8" stroke="#8a8a8a" stroke-width="0.4" stroke-linejoin="round"/>
<polygon points="395.3,649.5 399.4,647.2 399.3,638.5 395.2,640.8" fill="#9a9a9a" stroke="#8a8a8a" stroke-width="0.4" stroke-linejoin="round"/>
<polygon points="388.3,648.2 395.3,649.5 395.2,640.8 388.2,639.5" fill="#dcdcdc" stroke="#8a8a8a" stroke-width="0.4" stroke-linejoin="round"/>
<polygon points="388.2,639.5 395.2,640.8 399.3,638.5 392.3,637.3" fill="#e6e6e6" stroke="#8a8a8a" stroke-width="0.4" stroke-linejoin="round"/>
<polygon points="440.9,650.2 444.6,647.8 444.6,620.7 441.0,622.8" fill="#808080"/>
<polygon points="433.6,648.9 440.9,650.2 441.0,622.8 433.6,621.6" fill="#a6a6a6"/>
<polygon points="433.6,621.6 441.0,622.8 444.6,620.7 437.4,619.6" fill="#b4b4b4"/>
<polygon points="367.0,652.2 371.5,649.8 371.5,648.6 367.0,651.0" fill="#a8a8a8" stroke="#7a7a7a" stroke-width="0.9" stroke-linejoin="round"/>
<polygon points="360.1,650.9 367.0,652.2 367.0,651.0 360.1,649.7" fill="#eeeeee" stroke="#7a7a7a" stroke-width="0.9" stroke-linejoin="round"/>
<polygon points="360.1,649.7 367.0,651.0 371.5,648.6 364.6,647.3" fill="#f4f4f4" stroke="#7a7a7a" stroke-width="0.9" stroke-linejoin="round"/>
<polygon points="413.1,652.8 417.1,650.4 417.0,646.9 413.1,649.2" fill="#9a9a9a" stroke="#8a8a8a" stroke-width="0.4" stroke-linejoin="round"/>
<polygon points="405.9,651.5 413.1,652.8 413.1,649.2 405.9,647.9" fill="#dcdcdc" stroke="#8a8a8a" stroke-width="0.4" stroke-linejoin="round"/>
<polygon points="405.9,647.9 413.1,649.2 417.0,646.9 409.9,645.6" fill="#e6e6e6" stroke="#8a8a8a" stroke-width="0.4" stroke-linejoin="round"/>
<polygon points="459.5,653.5 463.0,651.1 463.2,631.4 459.6,633.7" fill="#808080"/>
<polygon points="452.0,652.2 459.5,653.5 459.6,633.7 452.1,632.4" fill="#a6a6a6"/>
<polygon points="452.1,632.4 459.6,633.7 463.2,631.4 455.7,630.2" fill="#b4b4b4"/>
<polygon points="338.2,654.9 343.0,652.5 342.9,651.4 338.1,653.8" fill="#b4b4b4" stroke="#7a7a7a" stroke-width="0.9" stroke-linejoin="round"/>
<polygon points="331.4,653.6 338.2,654.9 338.1,653.8 331.4,652.5" fill="#f4f4f4" stroke="#7a7a7a" stroke-width="0.9" stroke-linejoin="round"/>
<polygon points="331.4,652.5 338.1,653.8 342.9,651.4 336.2,650.0" fill="#f8f8f8" stroke="#7a7a7a" stroke-width="0.9" stroke-linejoin="round"/>
<polygon points="384.6,655.6 388.9,653.1 388.9,649.6 384.6,652.0" fill="#a8a8a8" stroke="#8a8a8a" stroke-width="0.4" stroke-linejoin="round"/>
<polygon points="377.5,654.2 384.6,655.6 384.6,652.0 377.5,650.7" fill="#eeeeee" stroke="#8a8a8a" stroke-width="0.4" stroke-linejoin="round"/>
<polygon points="377.5,650.7 384.6,652.0 388.9,649.6 381.8,648.3" fill="#f4f4f4" stroke="#8a8a8a" stroke-width="0.4" stroke-linejoin="round"/>
<polygon points="431.5,656.3 435.3,653.8 435.3,650.2 431.5,652.6" fill="#9a9a9a" stroke="#8a8a8a" stroke-width="0.4" stroke-linejoin="round"/>
<polygon points="424.0,654.9 431.5,656.3 431.5,652.6 424.0,651.2" fill="#dcdcdc" stroke="#8a8a8a" stroke-width="0.4" stroke-linejoin="round"/>
<polygon points="424.0,651.2 431.5,652.6 435.3,650.2 427.9,648.8" fill="#e6e6e6" stroke="#8a8a8a" stroke-width="0.4" stroke-linejoin="round"/>
<polygon points="355.5,658.4 360.2,655.9 360.2,654.5 355.5,657.0" fill="#b4b4b4" stroke="#7a7a7a" stroke-width="0.9" stroke-linejoin="round"/>
<polygon points="348.5,657.0 355.5,658.4 355.5,657.0 348.5,655.6" fill="#f4f4f4" stroke="#7a7a7a" stroke-width="0.9" stroke-linejoin="round"/>
<polygon points="348.5,655.6 355.5,657.0 360.2,654.5 353.2,653.1" fill="#f8f8f8" stroke="#7a7a7a" stroke-width="0.9" stroke-linejoin="round"/>
<polygon points="402.8,659.1 407.0,656.6 406.9,655.1 402.7,657.7" fill="#a8a8a8" stroke="#7a7a7a" stroke-width="0.9" stroke-linejoin="round"/>
<polygon points="395.4,657.7 402.8,659.1 402.7,657.7 395.4,656.3" fill="#eeeeee" stroke="#7a7a7a" stroke-width="0.9" stroke-linejoin="round"/>
<polygon points="395.4,656.3 402.7,657.7 406.9,655.1 399.7,653.8" fill="#f4f4f4" stroke="#7a7a7a" stroke-width="0.9" stroke-linejoin="round"/>
<polygon points="450.4,659.8 454.1,657.2 454.1,653.7 450.4,656.2" fill="#9a9a9a" stroke="#8a8a8a" stroke-width="0.4" stroke-linejoin="round"/>
<polygon points="442.8,658.4 450.4,659.8 450.4,656.2 442.8,654.8" fill="#dcdcdc" stroke="#8a8a8a" stroke-width="0.4" stroke-linejoin="round"/>
<polygon points="442.8,654.8 450.4,656.2 454.1,653.7 446.5,652.3" fill="#e6e6e6" stroke="#8a8a8a" stroke-width="0.4" stroke-linejoin="round"/>
<polygon points="373.4,662.0 377.9,659.4 377.9,655.4 373.3,658.0" fill="#b4b4b4" stroke="#8a8a8a" stroke-width="0.4" stroke-linejoin="round"/>
<polygon points="366.2,660.5 373.4,662.0 373.3,658.0 366.1,656.5" fill="#f4f4f4" stroke="#8a8a8a" stroke-width="0.4" stroke-linejoin="round"/>
<polygon points="366.1,656.5 373.3,658.0 377.9,655.4 370.7,654.0" fill="#f8f8f8" stroke="#8a8a8a" stroke-width="0.4" stroke-linejoin="round"/>
<polygon points="421.5,662.7 425.5,660.1 425.5,658.9 421.5,661.5" fill="#a8a8a8" stroke="#7a7a7a" stroke-width="0.9" stroke-linejoin="round"/>
<polygon points="413.9,661.2 421.5,662.7 421.5,661.5 413.9,660.1" fill="#eeeeee" stroke="#7a7a7a" stroke-width="0.9" stroke-linejoin="round"/>
<polygon points="413.9,660.1 421.5,661.5 425.5,658.9 418.0,657.5" fill="#f4f4f4" stroke="#7a7a7a" stroke-width="0.9" stroke-linejoin="round"/>
<polygon points="391.8,665.7 396.3,663.0 396.3,661.8 391.8,664.5" fill="#b4b4b4" stroke="#7a7a7a" stroke-width="0.9" stroke-linejoin="round"/>
<polygon points="384.4,664.2 391.8,665.7 391.8,664.5 384.4,663.0" fill="#f4f4f4" stroke="#7a7a7a" stroke-width="0.9" stroke-linejoin="round"/>
<polygon points="384.4,663.0 391.8,664.5 396.3,661.8 388.9,660.4" fill="#f8f8f8" stroke="#7a7a7a" stroke-width="0.9" stroke-linejoin="round"/>
<polygon points="440.8,666.4 444.7,663.7 444.7,662.6 440.8,665.3" fill="#a8a8a8" stroke="#7a7a7a" stroke-width="0.9" stroke-linejoin="round"/>
<polygon points="433.0,664.9 440.8,666.4 440.8,665.3 433.0,663.8" fill="#eeeeee" stroke="#7a7a7a" stroke-width="0.9" stroke-linejoin="round"/>
<polygon points="433.0,663.8 440.8,665.3 444.7,662.6 437.0,661.1" fill="#f4f4f4" stroke="#7a7a7a" stroke-width="0.9" stroke-linejoin="round"/>
<polygon points="410.9,669.5 415.2,666.7 415.2,665.8 410.9,668.5" fill="#b4b4b4" stroke="#7a7a7a" stroke-width="0.9" stroke-linejoin="round"/>
<polygon points="403.2,668.0 410.9,669.5 410.9,668.5 403.2,667.0" fill="#f4f4f4" stroke="#7a7a7a" stroke-width="0.9" stroke-linejoin="round"/>
<polygon points="403.2,667.0 410.9,668.5 415.2,665.8 407.6,664.3" fill="#f8f8f8" stroke="#7a7a7a" stroke-width="0.9" stroke-linejoin="round"/>
<polygon points="430.6,673.5 434.8,670.6 434.8,669.6 430.6,672.5" fill="#b4b4b4" stroke="#7a7a7a" stroke-width="0.9" stroke-linejoin="round"/>
<polygon points="422.7,671.9 430.6,673.5 430.6,672.5 422.7,670.9" fill="#f4f4f4" stroke="#7a7a7a" stroke-width="0.9" stroke-linejoin="round"/>
<polygon points="422.7,670.9 430.6,672.5 434.8,669.6 426.9,668.1" fill="#f8f8f8" stroke="#7a7a7a" stroke-width="0.9" stroke-linejoin="round"/>
<text transform="translate(309.4,662.4) rotate(-40)" y="3.0" font-size="8.7" style="stroke-width:0.05px" text-anchor="middle" fill="#222">0</text>
<text transform="translate(324.4,667.6) rotate(-40)" y="3.0" font-size="8.7" style="stroke-width:0.05px" text-anchor="middle" fill="#222">25</text>
<text transform="translate(341.9,670.6) rotate(-40)" y="3.0" font-size="8.7" style="stroke-width:0.05px" text-anchor="middle" fill="#222">50</text>
<text transform="translate(360.2,675.4) rotate(-40)" y="3.0" font-size="8.7" style="stroke-width:0.05px" text-anchor="middle" fill="#222">100</text>
<text transform="translate(376.9,679.4) rotate(-40)" y="3.0" font-size="8.7" style="stroke-width:0.05px" text-anchor="middle" fill="#222">200</text>
<text transform="translate(396.0,684.0) rotate(-40)" y="3.0" font-size="8.7" style="stroke-width:0.05px" text-anchor="middle" fill="#222">400</text>
<text transform="translate(416.0,686.9) rotate(-40)" y="3.0" font-size="8.7" style="stroke-width:0.05px" text-anchor="middle" fill="#222">800</text>
<text transform="translate(448.0,680.4) rotate(34)" y="3.0" font-size="8.7" style="stroke-width:0.05px" text-anchor="middle" fill="#222">40</text>
<text transform="translate(458.1,672.3) rotate(34)" y="3.0" font-size="8.7" style="stroke-width:0.05px" text-anchor="middle" fill="#222">20</text>
<text transform="translate(468.2,665.3) rotate(34)" y="3.0" font-size="8.7" style="stroke-width:0.05px" text-anchor="middle" fill="#222">10</text>
<text transform="translate(475.9,658.2) rotate(34)" y="3.0" font-size="8.7" style="stroke-width:0.05px" text-anchor="middle" fill="#222">5</text>
<text transform="translate(488.4,653.7) rotate(34)" y="3.0" font-size="8.7" style="stroke-width:0.05px" text-anchor="middle" fill="#222">2.5</text>
<text transform="translate(499.8,649.4) rotate(34)" y="3.0" font-size="8.7" style="stroke-width:0.05px" text-anchor="middle" fill="#222">1.25</text>
<text transform="translate(502.8,639.3) rotate(34)" y="3.0" font-size="8.7" style="stroke-width:0.05px" text-anchor="middle" fill="#222">0</text>
<text transform="translate(5.2,595.0) rotate(-90)" x="0" y="3.6" font-size="10.5" text-anchor="middle" font-weight="normal" fill="#222" >Proliferation</text>
<text transform="translate(17.8,595.6) rotate(-90)" x="0" y="3.6" font-size="10.5" text-anchor="middle" font-weight="normal" fill="#222" >[% of Control]</text>
<text transform="translate(257.3,598.5) rotate(-90)" x="0" y="3.6" font-size="10.5" text-anchor="middle" font-weight="normal" fill="#222" >Proliferation</text>
<text transform="translate(269.4,598.4) rotate(-90)" x="0" y="3.6" font-size="10.5" text-anchor="middle" font-weight="normal" fill="#222" >[% of Control]</text>
<text transform="translate(101.6,693.8) rotate(14.2)" y="3.6" font-size="10.5" text-anchor="middle" fill="#222">PD 166-326 [nM]</text>
<text transform="translate(236.8,680.2) rotate(-40)" y="3.5" font-size="10" text-anchor="middle" fill="#222">PKC 412 [nM]</text>
<text transform="translate(357.2,693.8) rotate(14.2)" y="3.6" font-size="10.5" text-anchor="middle" fill="#222">PD 166-326 [nM]</text>
<text transform="translate(492.4,680.2) rotate(-40)" y="3.5" font-size="10" text-anchor="middle" fill="#222">PKC 412 [nM]</text>
</svg>
</body></html>
